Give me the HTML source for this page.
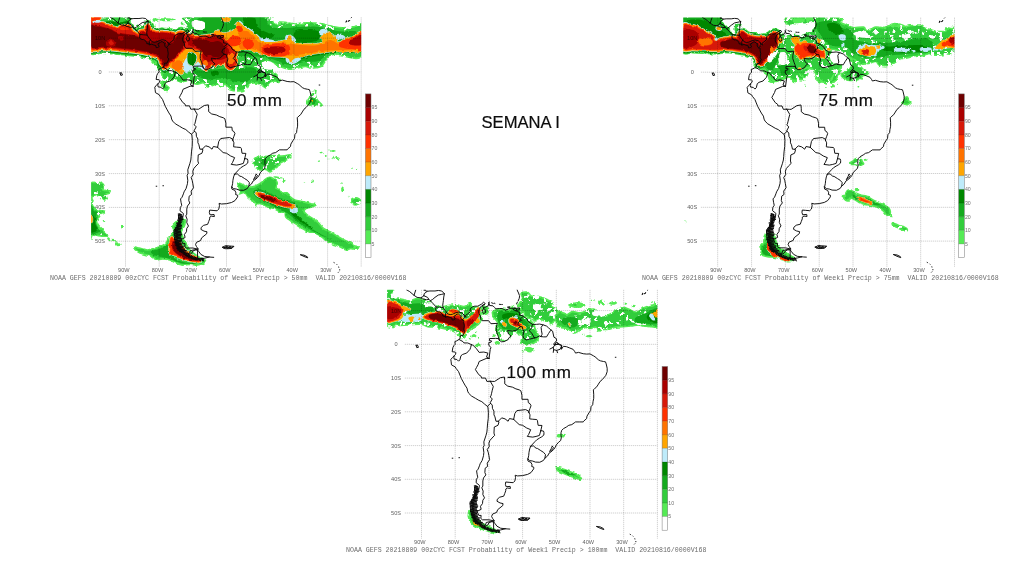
<!DOCTYPE html>
<html lang="pt"><head><meta charset="utf-8"><title>SEMANA I</title>
<style>
html,body{margin:0;padding:0;background:#fff;}
body{width:1024px;height:576px;overflow:hidden;position:relative;font-family:"Liberation Sans",sans-serif;}
svg{position:absolute;left:0;top:0;display:block;}
.c{fill:none;stroke:#0a0a0a;stroke-width:0.95;vector-effect:non-scaling-stroke;stroke-linejoin:round;stroke-linecap:round;}
.g{fill:none;stroke:rgba(0,0,0,0.3);stroke-width:0.6;stroke-dasharray:1.3 0.7;}
.ax{font-family:"Liberation Sans",sans-serif;font-size:5.6px;fill:rgba(0,0,0,0.66);text-anchor:middle;}
.cap{font-family:"Liberation Mono",monospace;font-size:6.4px;fill:#6c6c6c;}
.cb{font-family:"Liberation Sans",sans-serif;font-size:5.2px;fill:rgba(0,0,0,0.6);}
.t{font-family:"Liberation Sans",sans-serif;font-size:17px;fill:#0c0c0c;stroke:#0c0c0c;stroke-width:0.2;}
</style></head><body>
<svg width="1024" height="576" viewBox="0 0 1024 576">
<defs><filter id="b" x="-2%" y="-2%" width="104%" height="104%" color-interpolation-filters="sRGB"><feTurbulence type="fractalNoise" baseFrequency="0.22" numOctaves="2" seed="7" result="n"/><feDisplacementMap in="SourceGraphic" in2="n" scale="3.2" xChannelSelector="R" yChannelSelector="G" result="d"/><feGaussianBlur in="d" stdDeviation="0.4"/></filter>
<filter id="h" x="0" y="0" width="100%" height="100%" filterUnits="objectBoundingBox" color-interpolation-filters="sRGB"><feTurbulence type="fractalNoise" baseFrequency="0.23" numOctaves="2" seed="11" result="t"/><feColorMatrix in="t" type="matrix" values="0 0 0 0 0  0 0 0 0 0  0 0 0 0 0  0 0 0 -16 10.55" result="m"/><feComposite in="SourceGraphic" in2="m" operator="in"/></filter><path id="coast" class="c" d="M22.6,-8.7 L23.2,-8 L23.1,-8.6 L23.7,-9 L24.4,-9.6 L24.5,-10.6 L25.2,-11.1 L25.8,-11.3 L26.7,-11.3 L27.8,-11.9 L28.4,-12.45 L28.9,-12.1 L28.7,-11.8 L28.1,-11.6 L28.3,-10.9 L29,-11 L29.8,-11.4 L30,-12.2 L30.2,-11.5 L31.2,-11.4 L31.7,-10.9 L32,-10.5 L33.1,-10.6 L33.9,-10.6 L34.9,-10.1 L35.7,-10.4 L36.2,-10.65 L37.3,-10.7 L38.1,-10.7 L37.5,-10.5 L37.1,-10.4 L37.7,-10 L38.4,-9.8 L39.2,-9.3 L39.1,-8.6 L40,-8.5 L40.2,-8.3 L41.4,-7.4 L41.6,-6.8 L42.8,-6 L43,-5.9 L44.1,-5.9 L45,-6 L46,-5.8 L47.1,-5.4 L47.7,-4.9 L48.3,-4.3 L48.9,-3.9 L49.3,-2.1 L50,-1.7 L50.1,-1 L49.6,-0.6 L49.2,0 L49.7,0.2 L50.5,-0.2 L51.6,0.3 L51.5,1.5 L52.1,0.6 L53,0.7 L54,1.1 L55,1.5 L55.5,2.2 L55.7,2.6 L56.6,2.4 L58,2.8 L59,2.9 L60,2.85 L61,3.4 L61.5,3.7 L62.5,4.6 L63.1,4.9 L64,5.1 L64.6,5.2 L64.8,5.8 L65.1,7.1 L65.1,8.1 L64.7,9.2 L64.3,9.7 L63.6,10.5 L63,11 L62.5,11.8 L62,12.6 L61.5,13 L61,13.5 L61.1,14.8 L61.1,16 L60.9,17 L60.8,17.9 L60.3,18.5 L60.2,19.6 L59.7,20.3 L59.1,21.3 L59,22 L58.1,22.8 L58,23 L56.8,23 L55.7,23 L55.3,23.3 L54.6,23.8 L53.7,24 L53,24.5 L52.1,25 L51.6,25.5 L51.4,26.2 L51.4,27 L51.5,27.6 L51.3,28.5 L50.7,29 L50,29.8 L49.7,30.5 L49.2,31.2 L48.4,31.9 L47.9,32.2 L47.4,33.1 L46.6,33.75 L46.2,34.4 L45.1,34.95 L43.8,34.9 L43,34.6 L42.1,34.45 L41.6,34 L41.5,33.9 L41.6,34.6 L42.5,35 L42.8,35.7 L42.7,36.2 L43.3,36.4 L43.3,36.9 L42.5,38 L41.5,38.55 L40,38.9 L38.5,39 L37.8,38.8 L37.9,39.5 L37.7,40.5 L37.2,41 L36,40.9 L35,40.8 L34.9,41.5 L35.1,42.2 L36.3,42.1 L36.4,42.7 L35.5,42.6 L35,42.9 L35,43.4 L34.7,44.2 L34.4,45 L33.2,45.3 L32.5,45.9 L32.4,46.5 L33.3,47 L34.2,47.2 L34.1,47.8 L32.6,49 L32.3,49.8 L31.1,50.3 L30.8,51 L31.1,51.6 L31.6,52.3 L30.5,52.5 L29.2,52.8 L29,53.6 L28,53.6 L27,53 L26.5,52.5 L25.5,51.5 L24.7,50 L24.5,48.5 L24.4,46.7 L25.5,45.5 L26.2,44 L27,43 L27.2,41.8 L26.2,41 L26.3,40 L26.7,39.4 L26.5,38.5 L26.35,37.5 L26.8,37 L27.2,36 L27.4,35.4 L28,34.4 L28.4,33 L28.5,32 L28.3,30.5 L28.6,30 L28.5,28.9 L29.1,27.1 L29.4,26 L29.5,25 L29.6,23.6 L29.8,22 L29.85,20.2 L29.7,18.5 L28.7,17.7 L27.9,17 L27,16.6 L26,16 L24.8,15.3 L24,14.5 L23.7,13.9 L23.5,13 L22.9,12.1 L22.4,11.2 L21.8,10.1 L21.4,9.1 L21,8.1 L20.3,7.2 L20,6.7 L18.9,6.1 L18.8,5.2 L18.7,4.5 L19.2,3.9 L19.7,3.4 L20.1,3 L20.2,2.5 L20,2.3 L19.1,2.2 L19.3,1 L19.6,0.4 L20,0 L19.9,-0.8 L20.4,-1 L21.1,-1.4 L21.4,-1.8 L21.6,-2.6 L22.3,-2.6 L22.9,-3.9 L22.5,-4.2 L22.7,-5.5 L22.5,-6.6 L22.6,-7 L22.1,-7.2 L21.8,-7.5 L21.6,-8.1 L21.9,-8.4 L21.5,-8.5 L21,-8.95 L20.5,-8.95 L20.2,-8.6 L19.6,-8.3 L20,-7.5 L19.6,-7.25 L19.1,-7.2 L19,-7.8 L18.3,-8 L17.8,-8.2 L17.1,-8.05 L17,-8.3 L16.3,-8.4 L16.3,-8.7 L15.8,-9.4 L15.3,-9.6 L14.9,-9.6 L14.3,-9.9 L14.2,-10.4 L14.3,-11.1 L13.5,-12 L12.6,-12.9 L12.2,-13.3 L11.5,-13.2 L10.2,-13.5 L9.9,-13.75 L8.7,-13.9 L7.8,-14.5 L6.5,-15.6 L5.5,-16.2 M22.6,-8.7 L22,-9.3 L21,-9.55 L20.1,-9.3 L19.2,-8.9 L18.5,-8.8 L17.8,-9 L17.4,-9.55 L17,-10 L16.4,-10.9 L16.3,-11.6 L16.4,-12.3 L16.5,-13 L16.6,-14 L16.8,-15 L16,-15.8 L15,-15.95 L14,-15.8 L12.5,-15.8 L11.7,-15.7 L11.1,-15.9 L11.1,-16.3 M28.4,-10.6 L28,-9.8 L28.4,-9.1 L29,-9.4 L28.9,-10.3 L28.4,-10.6 M31.4,52.6 L31.8,53.1 L32.4,53.9 L33.5,54.5 L34.9,54.65 L33.5,55 L32,55.2 L30.5,55.3 L29,54.6 L28,54.2 L29,53.9 L29.7,53.5 L30,52.9 L30.7,52.6 L31.4,52.6 M38.8,51.8 L39.7,51.3 L40.8,51.4 L42.2,51.5 L41.6,52.1 L40.5,52.2 L39.5,52.2 L38.8,51.8 M39.8,51.6 L40.6,51.9 L41.2,51.6 M62,54 L63,54.1 L64,54.6 L64.1,54.9 L63,54.5 L62,54 M8.4,0.3 L8.8,0.2 L9.1,0.9 L8.6,1 L8.4,0.3 M38.1,-10.1 L39,-10.2 L39.1,-10.8 L38.3,-10.7 L38.1,-10.1 M25.9,41.9 L26.5,42 L26.4,43.4 L25.7,43.3 L25.9,41.9 M25.65,42 L26.75,42.22 L25.58,42.44 L26.97,42.66 L25.63,42.88 L27.03,43.1 L25.66,43.32 L27.2,43.54 L25.4,43.76 L26.91,43.98 L25.6,44.2 L26.68,44.42 L25.09,44.64 L26.52,44.86 L25.28,45.08 L26.76,45.3 L25.15,45.52 L26.67,45.74 L24.83,45.96 L26.63,46.18 L24.7,46.4 L26.39,46.62 L24.54,46.84 L26.48,47.06 L24.31,47.28 L26.56,47.5 L24.53,47.72 L26.8,47.94 L24.38,48.16 L26.59,48.38 L24.79,48.6 L26.45,48.82 L24.44,49.04 L26.68,49.26 L24.4,49.48 L26.62,49.7 L24.79,49.92 L26.48,50.14 L24.63,50.36 L26.69,50.58 L24.81,50.8 L26.71,51.02 L24.86,51.24 L27.26,51.46 L25.15,51.68 L27.19,51.9 L25.18,52.12 L27.65,52.34 L25.35,52.56 L28.14,52.78 L25.97,53 L28.39,53.22 M25.86,52.09 L26.05,53.21 L26.41,52.34 L26.58,53.44 L26.78,52.72 L27.1,53.67 L27.24,52.98 L27.41,54.07 L27.66,53.28 L27.85,54.33 L28.08,53.55 L28.28,54.59 L28.65,53.66 L28.72,54.82 L28.96,54.01 L29.18,55.02 L29.51,54.11 L29.66,55.17 L29.91,54.33 L30.13,55.32 L30.36,54.49 L30.61,55.43 L30.77,54.66 L30.96,55.65 L31.22,54.77 L31.53,55.64 L31.66,54.88 L31.99,55.71 L32.12,54.94 L32.31,55.89 L32.67,54.88 L32.84,55.85 L32.99,55.03 L33.26,55.89 M25.77,43.5 L26.47,43.8 L25.6,44.1 L26.37,44.4 L25.54,44.7 L26.29,45 L25.16,45.3 L26.12,45.6 L25.12,45.9 L25.73,46.2 L24.66,46.5 L25.47,46.8 L24.78,47.1 L25.69,47.4 L24.75,47.7 L25.57,48 L24.9,48.3 L25.53,48.6 L24.86,48.9 L25.61,49.2 L24.79,49.5 L25.65,49.8 L24.71,50.1 L25.83,50.4 L24.93,50.7 L25.92,51 L24.97,51.3 L26.1,51.6 L25.47,51.9 L26.4,52.2 L25.8,52.5 M34.9,54.65 L35.4,54.7 L36.2,54.75 M38.25,-12 L38.45,-12.5 M38.7,-12.9 L39,-13.6 L39.1,-14.2 M39.05,-14.5 L38.8,-15.2 L38.5,-15.8 L38.3,-16.4 M29.9,-12.4 L30.2,-12.5 M30.8,-12.3 L31.3,-12.1 M31.6,-12.2 L31.8,-12.1 M33.1,-11.85 L33.5,-11.8 M33.8,-11.8 L34,-11.8 M35.6,-11 L36.2,-11.1 L36.2,-10.9 L35.6,-11 M74.9,-16.9 L75,-17.1 M75.5,-14.8 L75.8,-15 L75.6,-15.15 L75.5,-14.8 M76.2,-15 L76.6,-15.2 L76.5,-15.35 L76.2,-15 M77,-16 L77.2,-16.2 M71.9,56.3 L72,56.35 M72.7,56.8 L72.75,56.85 M73.3,57.6 L73.32,57.7 M73.6,58.4 L73.6,58.5 M73.3,59.1 L73.2,59.2 M48.8,30.2 L49.2,30.6 L48.7,31.3 L48,31.8 L48.5,30.9 L48.8,30.2 M67.5,3.85 L67.7,3.85 M21.1,33.6 L21.3,33.6 M19.1,33.75 L19.3,33.75 M39,51.7 L39.6,51.9 L40.1,51.5 L40.5,51.8 L41,51.6 L41.4,51.9 L42,51.6 M39.2,52 L39.8,51.7 L40.3,52.1 L40.8,51.9 L41.3,52 M48.1,1.4 L49.1,0.9 L49.6,0.1 L50.6,0 L51.6,0.4 L51.1,1.5 L50.1,1.8 L49.2,1.6 L49.1,0.9 M49.2,1.6 L49.1,2.4 M50.1,1.8 L50.4,2.5 M49.6,0.1 L50,-0.6 L50.5,-0.4 L50.6,0 M28.7,-11.8 L27.5,-11.1 L27,-10 L27,-9.2 L27.5,-8.4 L27.6,-7.4 L28,-7 L29.9,-7 L30.6,-6.1 L32.5,-6.2 L32.2,-5 L32.2,-4 L32.6,-2.8 L32.8,-2.3 L33.1,-1.2 M33.1,-1.2 L32.9,-1.7 L32,-1.75 L30.2,-1.7 L30.15,-1.1 L30.8,-1 L30.6,-0.6 L30,-0.55 L29.95,0.2 L30.6,1 L30.4,1.5 L30.05,4.2 M30.05,4.2 L29.3,3.8 L29.7,2.6 L28.5,2.3 L27.1,2.4 L26.3,1.3 L25.2,0.2 L24.8,0.1 M24.8,0.1 L24.4,-0.1 L23.7,-0.4 L22.6,-0.4 L22.3,-0.8 L21.2,-1.4 M24.8,0.1 L24.6,0.9 L24.4,1.5 L23.4,2.6 L22.2,3 L21.7,3.4 L21.4,4.6 L21,5 L20.5,4.5 L19.7,4.4 L19.6,3.9 L19.7,3.4 M30.05,4.2 L29.2,4.2 L27.1,5.1 L26.8,6 L26.3,6.9 L26,7.5 L27,9 L27.7,9.5 L27.8,10 L29,10 L29.4,11 L30.4,10.95 M30.4,10.95 L31.3,12.5 L31,13.6 L30.8,14.5 L30.6,15.3 L30.4,15.6 L31,16.2 L30.4,17.3 L30.5,17.5 M30.5,17.5 L29.6,18.35 M30.5,17.5 L31,18 L31.05,19 L31.5,19.8 L31.5,20.9 L31.8,21.5 L32.1,22.8 L32.8,22.8 M32.8,22.8 L33,23 L32.7,24 L31.6,24.5 L31.5,26.3 L31.7,27 L30.9,27.8 L30.3,28.5 L30,29.3 L30.1,30.3 L29.5,31.2 L29.8,32 L30,33 L30.2,34.2 L29.5,35.2 L29.6,36.2 L28.9,36.7 L28.8,38 L29.1,38.7 L28.4,39.6 L28.2,40.5 L28.2,42 L27.9,42.5 L28.3,43.5 L28.2,44.5 L28.7,45.5 L28.2,46.2 L28.1,47.2 L27.5,48 L27.7,48.9 L26.5,49.5 L27,50.7 L27.7,50.7 L27.6,51.6 L28.1,52 L30,52 L31.6,52.35 M31.4,52.65 L31.4,54.9 M30.4,10.95 L31.2,11 L31.7,11 L33.4,9.9 L34.6,9.7 L34.7,10.8 L34.7,11.7 L35.6,12.4 L37,12.7 L38,13.2 L39,13.5 L39.5,13.8 L39.8,15.1 L39.8,16.3 L41.6,16.3 L41.7,17.3 L42.2,17.6 L42.5,18.2 L42.2,19 L41.9,19.8 L41.85,20.15 M41.85,20.15 L41.8,19.8 L40.9,19.35 L38.3,19.65 L37.7,20.5 L37.35,22.25 M37.35,22.25 L36.1,22 L35.7,22.8 L34.8,22.1 L33.8,21.8 L32.8,22.8 M37.35,22.25 L39,23.8 L40,24 L41.2,24.8 L42.4,25.3 L41.8,26.7 L41.4,27.3 L43,27.5 L44,27.3 L45,27 L45.4,25.6 M45.4,25.6 L45.75,24.05 L44.6,24 L44.4,22.6 L44.2,22.3 L43,22.2 L42.1,22.1 L42.2,20.9 L41.85,20.15 M45.4,25.6 L46.2,25.7 L46.35,26.2 L46.3,26.9 L45.7,27.4 L45,27.8 L44.2,28.3 L43.7,28.8 L42.4,30.2 M42.4,30.2 L42.1,31 L41.9,32 L41.8,33 L41.6,33.9 M42.4,30.2 L43.2,30.1 L44,30.8 L44.4,30.85 L45.4,31.5 L46.2,32 L46.8,32.7 L46.6,33.75 M33.1,-1.2 L33.7,-0.75 L34.5,-0.8 L35.7,-1.4 L36,-2 L36.6,-2.4 L35.8,-3.1 L35.5,-4.1 L37,-3.9 L37.2,-4 L38.1,-4.15 L39.3,-5.2 M39.3,-5.2 L38.6,-5.9 L38.9,-6.7 L39.7,-7.1 L39.3,-7.5 L40.2,-8.3 M39.3,-5.2 L39.9,-5.2 L40.05,-4.5 L40.4,-3.9 L40.1,-2.6 L40.3,-1.8 L41.1,-1.3 L42,-1.5 L43.5,-1.9 M43.5,-1.9 L42.7,-3.3 L42,-4 L42.7,-5 L42.9,-5.9 M43.5,-1.9 L44.1,-2 L45,-2.5 L45.4,-2.3 M45.4,-2.3 L45.8,-3 L45.6,-4 L45.5,-5 L46,-5.75 M45.4,-2.3 L46.2,-2.2 L47.1,-2.2 L47.7,-3.2 L48.3,-4.1 L48.4,-4.3 M22.6,-8.7 L22.8,-7.9 L22.1,-7.2 M17.1,-8.05 L17.1,-9 L17.4,-9.55 M14.3,-11.1 L15.3,-11 L16.4,-10.9 M12.6,-12.9 L13.3,-13.3 L14,-13.9 L15,-14.6 L16,-14.8 L16.8,-15 M12.2,-13.3 L11.8,-13.9 L10.7,-14.4 M9.9,-13.75 L10.7,-14.4 M10.7,-14.4 L10.8,-15 L11.7,-15.7 M7.8,-14.5 L8,-15.2 L8.3,-16.1 M10.8,-15.9 L10.8,-16.3"/>
</defs>
<rect width="1024" height="576" fill="#fff"/>
<g id="panel1">
<clipPath id="clip1"><rect x="91.1" y="17.3" width="270.1" height="256.8"/></clipPath>
<g clip-path="url(#clip1)" filter="url(#b)">
<defs><path id="s1_0" d="M216,17C225.7,9.3 260.3,16.6 270,17C279.7,17.4 269.3,18 270,19C270.7,20 272.4,21.8 273.8,22.8C275.2,23.8 276.4,24.7 277.5,24.6C278.6,24.5 278.2,22.4 280,22.1C281.8,21.8 284.8,22.5 287.5,22.8C290.2,23.1 291.7,24 295,24C298.3,24 301.7,22.9 306,22.8C310.3,22.7 314.5,22.8 318.8,23.4C323.1,24 325.7,25.1 330,25.9C334.3,26.7 338,27.7 342.5,27.8C347,27.9 351.5,27 355,26.5C358.5,26 360.7,19.9 362,25.2C363.3,30.5 365.5,50.4 362,55.9C358.5,61.4 347.4,56.3 342.5,56C337.6,55.7 337.7,53.7 335,54C332.3,54.3 330,55.5 327.5,57.8C325,60 324,64.7 321,66.5C318,68.3 313.9,67.8 311,67.8C308.1,67.8 308.3,66.3 305,66.5C301.7,66.7 295.6,68.5 292.5,69C289.4,69.5 289.8,69.5 287.5,69C285.2,68.5 282.2,67.4 280,66.5C277.8,65.6 277.2,64.9 275,64C272.8,63.1 269.8,61.5 267.5,61.5C265.2,61.5 264.2,64.3 262.5,64C260.8,63.7 262.1,60.7 258,60C253.9,59.3 247.6,60 240,60C232.4,60 220.3,67.7 216,60C211.7,52.3 206.3,24.7 216,17Z"/><path id="s1_1" d="M216,17C225.4,9.6 257.9,15.7 268,17C278.1,18.3 270.2,22.4 272,24C273.8,25.6 276.2,26 278,26C279.8,26 278.9,24.1 282,24C285.1,23.9 290.7,25.4 295,25.5C299.3,25.6 301.7,24.6 306,24.5C310.3,24.4 314.7,24.5 319,25C323.3,25.5 325.9,26.7 330,27.5C334.1,28.3 337.5,29.3 342,29.5C346.5,29.7 351.4,28.9 355,28.5C358.6,28.1 360.7,22.9 362,27.5C363.3,32.1 365.4,49.1 362,54C358.6,58.9 347.9,54.8 343,54.5C338.1,54.2 338.1,52.2 335,52.5C331.9,52.8 328.7,53.9 326,56C323.3,58.1 322.7,62.3 320,64C317.3,65.7 313.7,65.4 311,65.5C308.3,65.6 308.2,64.2 305,64.5C301.8,64.8 296.2,66.5 293,67C289.8,67.5 289.3,67.5 287,67C284.7,66.5 282.2,65.4 280,64.5C277.8,63.6 277.2,62.9 275,62C272.8,61.1 270.3,59.7 268,59.5C265.7,59.3 267,61.3 262,61C257,60.7 248.3,58.5 240,58C231.7,57.5 220.3,65.4 216,58C211.7,50.6 206.6,24.4 216,17Z"/><path id="s1_2" d="M216,17C224.3,10 252.6,15.7 262,17C271.4,18.3 265.5,22 268,24C270.5,26 271.1,27.4 276,28C280.9,28.6 289.6,27.8 295,27.5C300.4,27.2 301.7,26.6 306,26.5C310.3,26.4 314.7,26.5 319,27C323.3,27.5 325.9,28.7 330,29.5C334.1,30.3 338.4,31.2 342,31.5C345.6,31.8 347.5,30.7 350,31C352.5,31.3 357.8,30.1 356,33C354.2,35.9 346.5,43.9 340,47C333.5,50.1 322.5,48.7 320,50C317.5,51.3 326.4,52 326,54C325.6,56 321.8,59.6 318,61C314.2,62.4 309.5,61.4 305,62C300.5,62.6 296.2,64 293,64.5C289.8,65 289.3,65 287,64.5C284.7,64 282.7,63 280,62C277.3,61 275.2,59.9 272,59C268.8,58.1 267.8,57.5 262,57C256.2,56.5 248.3,56.2 240,56C231.7,55.8 220.3,63 216,56C211.7,49 207.7,24 216,17Z"/><path id="s1_3" d="M243,18C244.6,16.7 251.3,16.4 254,18C256.7,19.6 255.8,24.5 258,27C260.2,29.5 263.1,30.6 266,32C268.9,33.4 273.6,33.7 274,35C274.4,36.3 270.9,38.8 268,39C265.1,39.2 261.2,37.6 258,36C254.8,34.4 252.3,32 250,30C247.7,28 246.3,27.2 245,25C243.7,22.8 241.4,19.3 243,18Z"/><path id="s1_4" d="M296,31C298.2,29.6 302,30 306,30C310,30 315.3,29.9 318,31C320.7,32.1 321.4,34.2 321,36C320.6,37.8 319.4,39.9 316,41C312.6,42.1 306,42.5 302,42C298,41.5 295.1,40 294,38C292.9,36 293.8,32.4 296,31Z"/><path id="s1_5" d="M262,55C264.3,56.6 270.3,57.1 275,58C279.7,58.9 284.6,59.1 288,60C291.4,60.9 291.5,63.2 294,63C296.5,62.8 298.8,60.2 302,59C305.2,57.8 308,57.3 312,56.5C316,55.7 319.7,55.1 324,54.5C328.3,53.9 331.3,53.3 336,53C340.7,52.7 345.3,53.2 350,53C354.7,52.8 359.8,52.7 362,52C364.2,51.3 380,49.5 362,49C344,48.5 280,47.9 262,49C244,50.1 259.7,53.4 262,55Z"/><path id="s1_6" d="M184.2,17.5C189.9,16.8 210.3,14.1 216,17.5C221.7,20.9 218.8,33.1 216,36.5C213.2,39.9 205.5,36.7 200.5,36.5C195.5,36.3 190.9,36.4 188,35.2C185.1,34.1 184.5,31.6 184.2,30.2C184,28.9 186.6,29.3 186.8,27.8C186.9,26.2 185.3,23.3 184.9,21.5C184.4,19.7 178.6,18.2 184.2,17.5Z"/><path id="s1_7" d="M205.5,19C207.3,17.6 214.1,16.1 216,19C217.9,21.9 217.4,32.3 216,35.2C214.6,38.2 210.1,35.9 208,35.2C205.9,34.6 204.6,33.1 204.2,31.5C203.9,29.9 205.9,28.8 206.1,26.5C206.3,24.2 203.7,20.4 205.5,19Z"/><path id="s1_8" d="M200,17.5C207.2,14.3 232.8,14.7 240,17.5C247.2,20.3 247.2,29.9 240,33C232.8,36.1 207.2,37.8 200,35C192.8,32.2 192.8,20.6 200,17.5Z"/><path id="s1_9" d="M100.5,17.5C105.6,17 123.7,17.1 129.2,17.5C134.8,17.9 131.1,18.7 131.1,19.6C131.1,20.6 131.4,22.2 129.2,22.8C127.1,23.3 123.5,22.9 119.2,22.8C115,22.6 108.8,22.6 105.5,22.1C102.2,21.7 102,21.1 101.1,20.2C100.2,19.4 95.4,18 100.5,17.5Z"/><path id="s1_10" d="M105.5,22.1C106.6,21.5 110.5,21.4 113,21.5C115.5,21.6 117,22.8 119.2,22.8C121.5,22.8 123.9,21.7 125.5,21.5C127.1,21.3 126,19.1 128.2,21.5C130.5,23.9 136.6,32.4 138,34.6C139.4,36.9 137.2,34.7 136.1,34C135,33.3 132.9,32 131.8,30.9C130.6,29.7 131,28.4 129.9,27.5C128.8,26.6 127.1,26.1 125.5,25.9C123.9,25.7 122.1,26 120.8,26.5C119.4,27 119.4,28.6 118,28.8C116.6,28.9 115,28.2 113,27.5C111,26.8 108.1,26 106.8,25C105.4,24 104.4,22.8 105.5,22.1Z"/><path id="s1_11" d="M137.4,24.6C138.3,23.7 141.3,23.9 143,24C144.7,24.1 146.1,23.7 146.8,25.2C147.4,26.8 147.2,31.6 146.5,32.8C145.8,33.9 144.2,31.5 143,31.5C141.8,31.5 140.8,33.2 139.9,32.8C139,32.3 138.4,30.5 138,29C137.6,27.5 136.5,25.5 137.4,24.6Z"/><path id="s1_12" d="M153,18.4C153.8,17.9 157,18.2 158,18.8C159,19.3 159.4,20.8 158.6,21.2C157.8,21.7 154.6,22 153.6,21.5C152.6,21 152.2,18.9 153,18.4Z"/><path id="s1_13" d="M161.8,18.4C163.9,18 172,18.3 174.2,18.8C176.5,19.2 176.1,20.5 174,20.9C171.9,21.3 164.6,21.3 162.4,20.9C160.2,20.4 159.6,18.8 161.8,18.4Z"/><path id="s1_14" d="M181.1,22.1C181.5,21.7 182.9,21.7 183.2,22.1C183.6,22.6 183.6,24.2 183.2,24.6C182.9,25.1 181.5,25.1 181.1,24.6C180.7,24.2 180.7,22.6 181.1,22.1Z"/><path id="s1_15" d="M158.8,68.5C159,71.6 160.6,70.5 161.2,72.2C161.9,74 162.4,76.2 162.5,78.5C162.6,80.8 161.7,82.8 161.9,84.8C162.1,86.7 162.7,88.1 163.8,89.1C164.8,90.1 166.6,90.6 167.5,90.4C168.4,90.2 169.2,89 168.8,87.9C168.3,86.8 165.2,85.4 165,84.1C164.8,82.9 165.7,81.8 167.5,81C169.3,80.2 172.5,79.5 175,79.8C177.5,80 179.2,82 181.2,82.2C183.3,82.5 184.7,81.3 186.2,81C187.8,80.7 188.8,80 190,80.4C191.2,80.7 191.8,82.2 193.1,82.9C194.5,83.6 195.6,84.1 197.5,84.1C199.4,84.1 201.9,82.2 203.8,82.9C205.6,83.6 206.2,87.3 207.5,87.9C208.8,88.4 209.4,86.7 211.2,86C213.1,85.3 215.7,84 217.5,84.1C219.3,84.2 219.9,86.6 221.2,86.6C222.6,86.6 223.9,84.1 225,84.1C226.1,84.1 226.6,85.6 227.5,86.6C228.4,87.6 228.2,89 230,89.8C231.8,90.5 234.8,91 237.5,91C240.2,91 243,90.9 245,89.8C247,88.6 247.2,86 248.8,84.8C250.3,83.5 251.7,83 253.8,82.9C255.8,82.8 257.8,83.2 260,84.1C262.2,85 264.7,87.9 266.2,87.9C267.8,87.9 267.4,85.4 268.8,84.1C270.1,82.9 272.1,81.2 273.8,81C275.4,80.8 276.9,83.2 278,82.9C279.1,82.5 280.4,80.2 280,79C279.6,77.8 276.9,76.9 276,76C275.1,75.1 277,75.3 275,74C273,72.7 267.2,70.8 265,69C262.8,67.2 263,66.5 262.5,64C262,61.5 280.4,56.6 262,55C243.6,53.4 178.6,52.6 160,55C141.4,57.4 158.5,65.4 158.8,68.5Z"/><path id="s1_16" d="M160,63.5C142.9,64.8 163.9,68.5 165,71C166.1,73.5 164.4,76.1 166.2,77.2C168.1,78.4 172.1,76.8 175,77.2C177.9,77.7 179.6,79.5 182.5,79.8C185.4,80 189,78.3 191.2,78.5C193.5,78.7 192.8,80.7 195,81C197.2,81.3 201.1,79.8 203.8,80.4C206.4,80.9 207.5,83.9 210,84.1C212.5,84.3 214.8,82.1 217.5,81.6C220.2,81.2 222.8,80.6 225,81.6C227.2,82.6 227.8,86 230,87.2C232.2,88.5 235,88.8 237.5,88.8C240,88.8 241.9,88.3 243.8,87.2C245.6,86.2 245.7,84.1 247.5,82.9C249.3,81.6 251.5,80.6 253.8,80.4C256,80.2 257.8,80.7 260,81.6C262.2,82.5 264.4,85.6 266.2,85.4C268.1,85.2 271.1,84.3 270,80.4C268.9,76.4 279.8,66.5 260,63.5C240.2,60.5 177.1,62.1 160,63.5Z"/><path id="s1_17" d="M193.8,68.5C195.1,68 199.1,70.8 202.5,71C205.9,71.2 208.4,70.2 212.5,69.8C216.6,69.3 220.5,68.7 225,68.5C229.5,68.3 233,68.7 237.5,68.5C242,68.3 246.6,67 250,67.2C253.4,67.5 255.3,68.2 256.2,69.8C257.1,71.3 256.6,74 255,76C253.4,78 250.7,79.9 247.5,81C244.3,82.1 241.1,82.5 237.5,82.2C233.9,82 231.1,80.4 227.5,79.8C223.9,79.1 220.9,78.5 217.5,78.5C214.1,78.5 211.9,80 208.8,79.8C205.6,79.5 202.5,78.4 200,77.2C197.5,76.1 196.1,75.1 195,73.5C193.9,71.9 192.4,69 193.8,68.5Z"/><path id="s1_18" d="M211.2,71.6C212.2,70.7 216.2,70.4 217.5,71C218.8,71.6 219.4,73.8 218.5,74.8C217.6,75.7 213.8,76.6 212.5,76C211.2,75.4 210.3,72.5 211.2,71.6Z"/><path id="s1_19" d="M215,32.1C216.8,27.9 221.2,33.5 225,32.8C228.8,32.1 234.3,30.1 236.2,28.4C238.1,26.7 235.1,24.5 235.6,23.4C236.1,22.3 237.3,21.7 238.8,22.1C240.3,22.6 242,24.5 243.8,25.9C245.6,27.2 247,28.4 248.8,29.6C250.6,30.8 252.1,31.6 253.8,32.8C255.5,34 256.8,35 258.1,36.5C259.4,38 259.1,39.9 261.2,40.9C263.3,41.9 266.6,42.1 270,42.1C273.4,42.1 276.9,41.5 280,40.9C283.1,40.3 286,39.9 287.5,39C289,38.1 287.4,36.5 288.1,35.9C288.8,35.3 290.4,35 291.2,35.9C292,36.8 290.9,39.5 292.5,40.9C294.1,42.2 297.8,42.9 300,43.4C302.2,43.9 301.9,43.4 305,43.4C308.1,43.4 314.4,43.9 317.5,43.4C320.6,42.9 322.1,41.8 322.5,40.9C322.9,40 320,39.4 320,38.4C320,37.4 321.3,36.3 322.5,35.2C323.7,34.1 325.1,32.7 326.9,32.5C328.7,32.3 330.6,32.9 332.5,34C334.4,35.1 336.4,36.9 337.5,38.4C338.6,39.9 337.4,42.1 338.8,42.1C340.2,42.1 342.5,39.4 345,38.4C347.5,37.4 349.4,37.7 352.5,36.5C355.6,35.3 360.3,29 362,31.5C363.7,34 364.2,46.6 362,50.2C359.8,53.8 354,51.2 350,51.5C346,51.8 342.7,52.1 340,52.1C337.3,52.1 337.9,51.4 335,51.5C332.1,51.6 328.1,52.2 323.8,52.8C319.5,53.4 315.3,53.8 311.2,54.6C307.1,55.4 304.3,56.3 301.2,57.1C298.1,57.9 295.4,58.1 293.8,59C292.2,59.9 293.2,61.5 292.5,62.1C291.8,62.7 290.8,62.8 290,62.1C289.2,61.4 289.9,59.3 288.1,58.4C286.3,57.5 283.3,57.4 280,57.1C276.7,56.8 273.1,57.1 270,56.5C266.9,55.9 265.2,54.7 262.5,54C259.8,53.3 257.2,53.5 255,52.8C252.8,52.1 252.2,50.7 250,50.2C247.8,49.7 244.8,50 242.5,50.2C240.2,50.4 240.7,50.5 237.5,51.5C234.3,52.5 229.1,55.2 225,56C220.9,56.8 216.8,60.3 215,56C213.2,51.7 213.2,36.3 215,32.1Z"/><path id="s1_20" d="M238,33C239.1,29.9 243.1,30.5 246,31C248.9,31.5 251.7,34 254,36C256.3,38 256.1,40.6 259,42C261.9,43.4 265.3,43.9 270,44C274.7,44.1 279.6,42.3 285,42.5C290.4,42.7 294.1,44.5 300,45C305.9,45.5 312.6,45.9 318,45C323.4,44.1 326,40.2 330,40C334,39.8 336.4,44 340,44C343.6,44 346,41.6 350,40C354,38.4 359.8,33.5 362,35C364.2,36.5 366,45.8 362,48.5C358,51.2 347.2,49.5 340,50C332.8,50.5 328.3,50.3 322,51C315.7,51.7 310.8,53.2 305,54C299.2,54.8 295.4,55.3 290,55.5C284.6,55.7 280,55.6 275,55C270,54.4 266.5,53.2 262,52C257.5,50.8 254,49.1 250,48.5C246,47.9 242.2,51.3 240,48.5C237.8,45.7 236.9,36.1 238,33Z"/><path id="s1_21" d="M227,40C227.7,38.4 230.8,36.5 233,36C235.2,35.5 237.6,35.9 239,37C240.4,38.1 241.5,40.4 241,42C240.5,43.6 238.2,45.5 236,46C233.8,46.5 230.6,46.1 229,45C227.4,43.9 226.3,41.6 227,40Z"/><path id="s1_22" d="M243,41C243.9,39.6 247,38.5 249,39C251,39.5 253.8,42.2 254,44C254.2,45.8 251.8,48.5 250,49C248.2,49.5 245.3,48.4 244,47C242.7,45.6 242.1,42.4 243,41Z"/><path id="s1_23" d="M236,27C236.2,25.9 238.7,25.5 240,26C241.3,26.5 243.2,28.9 243,30C242.8,31.1 240.3,32.5 239,32C237.7,31.5 235.8,28.1 236,27Z"/><path id="s1_24" d="M243.8,25.2C244.5,25.1 245.7,26 247.5,27.1C249.3,28.2 251.5,29.7 253.8,31.5C256,33.3 258.4,35.4 260,37.1C261.6,38.8 262.7,40.2 262.5,40.9C262.3,41.6 260.3,41.9 258.8,40.9C257.2,39.9 255.7,37 253.8,35.2C251.8,33.5 250,32.2 248.1,30.9C246.2,29.5 243.9,28.8 243.1,27.8C242.3,26.7 243,25.4 243.8,25.2Z"/><path id="s1_25" d="M260,37.8C261.6,37.4 267.3,39.1 270,39.6C272.7,40.2 275,40.3 275,40.9C275,41.5 272.5,42.8 270,43C267.5,43.2 263.1,42.7 261.2,41.8C259.4,40.8 258.4,38.1 260,37.8Z"/><path id="s1_26" d="M286.2,57.8C287.6,56.7 292.5,56.9 295,57.1C297.5,57.3 300,57.9 300,59C300,60.1 297.2,62.7 295,63.4C292.8,64.1 289.1,64 287.5,63C285.9,62 284.9,58.8 286.2,57.8Z"/><path id="s1_27" d="M285.6,35.9C286.5,34.6 289.4,34.7 291.2,35.2C293.1,35.8 294.9,37.6 295.6,39C296.3,40.4 296.7,42.4 295,43C293.3,43.6 287.9,43.4 286.2,42.1C284.6,40.8 284.7,37.1 285.6,35.9Z"/><path id="s1_28" d="M320.6,29.6C321.8,28.7 325.3,28.4 326.5,29C327.7,29.6 328.2,31.6 327.5,32.8C326.8,33.9 323.9,35.3 322.5,35.5C321.1,35.7 320.1,35.1 319.8,34C319.4,32.9 319.4,30.5 320.6,29.6Z"/><path id="s1_29" d="M335,35.5C336.2,34.9 340.7,34.6 342.5,35C344.3,35.4 345.7,36.9 345,37.8C344.3,38.6 340.4,39.5 338.8,39.6C337.1,39.7 336.3,39.1 335.6,38.4C334.9,37.6 333.8,36.1 335,35.5Z"/><path id="s1_30" d="M287.5,57.8C288.9,56.7 293.8,57.3 296.2,57.5C298.7,57.7 301.5,58 301.2,59C301,60 297.2,62.2 295,63C292.8,63.8 290.1,64.3 288.8,63.4C287.4,62.4 286.1,58.8 287.5,57.8Z"/><path id="s1_31" d="M237.5,21.5C237.4,20.7 239.5,20.6 240.6,21.2C241.7,21.9 243.6,24.2 243.8,25C243.9,25.8 242.4,26.1 241.2,25.5C240.1,24.9 237.6,22.3 237.5,21.5Z"/><path id="s1_32" d="M261.2,47.8C262,46.6 263,45.4 265,44.6C267,43.8 269.6,43.6 272.5,43.4C275.4,43.2 278.6,43.2 281.2,43.4C283.9,43.6 285.9,43.8 287.5,44.6C289.1,45.4 289.7,46.3 290,47.8C290.3,49.2 290.3,51.3 289.4,52.8C288.5,54.2 287.1,55.2 285,55.9C282.9,56.6 280.2,56.5 277.5,56.5C274.8,56.5 272.5,56.3 270,55.9C267.5,55.4 265.4,54.9 263.8,54C262.1,53.1 261.4,52 261,50.9C260.6,49.8 260.5,48.9 261.2,47.8Z"/><path id="s1_33" d="M263.8,49.6C264.4,48.6 267.5,47.7 270,47.1C272.5,46.6 275,46.4 277.5,46.5C280,46.6 282.4,47 283.8,47.8C285.1,48.5 285.7,49.9 285,50.9C284.3,51.9 282.2,52.8 280,53.4C277.8,53.9 275,54.1 272.5,54C270,53.9 267.8,53.5 266.2,52.8C264.7,52 263.1,50.6 263.8,49.6Z"/><path id="s1_34" d="M339.4,43.4C340.3,42 342.6,40.6 345,39.6C347.4,38.6 349.5,39 352.5,37.8C355.5,36.5 360.2,30.7 361.9,32.8C363.6,34.8 363.6,46.1 361.9,49C360.2,51.9 355.5,49.1 352.5,49C349.5,48.9 347.2,48.7 345,48.4C342.8,48 341,48 340,47.1C339,46.2 338.5,44.7 339.4,43.4Z"/><path id="s1_35" d="M350,40.9C350.8,39.9 352.9,39.5 355,38.4C357.1,37.3 360.6,33.6 361.9,34.6C363.1,35.6 363.1,42.1 361.9,44C360.6,45.9 357,45.2 355,45.2C353,45.2 351.5,44.8 350.6,44C349.7,43.2 349.2,41.9 350,40.9Z"/><path id="s1_36" d="M221.9,17.5C223.3,17 228.6,16.9 230,17.5C231.4,18.1 230.7,20.1 229.8,20.9C228.8,21.6 226.3,21.9 225,21.8C223.7,21.6 222.8,21 222.2,20.2C221.7,19.5 220.5,18 221.9,17.5Z"/><path id="s1_37" d="M90.5,26.8C91.4,23.2 93.2,26.3 95.5,26.4C97.8,26.5 100.3,26.8 103,27.4C105.7,28 108,28.7 110.5,29.6C113,30.6 114,31.9 116.8,32.8C119.5,33.6 122.8,34.2 125.5,34.6C128.2,35.1 129.5,34.8 131.8,35.2C134,35.7 136.4,36.4 138,37.1C139.6,37.8 138.9,38.3 140.5,39C142.1,39.7 144.5,40.3 146.8,40.9C149,41.4 151,42.1 153,42.1C155,42.1 156.2,41.1 158,40.9C159.8,40.7 161.2,40.2 163,40.9C164.8,41.6 166.4,44.3 168,44.6C169.6,45 170.4,43.8 171.8,42.8C173.1,41.7 174.4,40.4 175.5,39C176.6,37.6 177,36.1 178,35.2C179,34.4 180.2,33.9 181.1,34C182.1,34.1 182.7,34.6 183.2,35.9C183.8,37.1 183.8,39.2 184,40.9C184.2,42.6 184.5,43.9 184.2,45.2C184,46.6 183.5,47.5 182.8,48.4C182,49.3 180.8,49.2 179.9,50.2C178.9,51.3 178.4,52.8 177.4,54C176.4,55.2 175.7,55.7 174.2,57.1C172.8,58.6 170.7,60.7 169.2,62.1C167.8,63.6 167,64.5 166.1,65.2C165.2,66 164.8,66.7 164.2,66.2C163.7,65.8 163.6,64.3 163,62.8C162.4,61.2 162.5,59.3 161.1,57.8C159.8,56.2 157.9,55.3 155.5,54.2C153.1,53.2 151.2,52.5 148,51.8C144.8,51 142.1,50.5 138,49.9C133.9,49.3 130,49 125.5,48.5C121,48 117.5,47.6 113,47.2C108.5,46.9 104.5,46.9 100.5,46.8C96.5,46.6 92.3,49.9 90.5,46.2C88.7,42.6 89.6,30.3 90.5,26.8Z"/><path id="s1_38" d="M90.5,21.8C92.3,21 97.6,22.2 100.5,22.8C103.4,23.3 104.5,24.1 106.8,25C109,25.9 111,26.8 113,27.5C115,28.2 116.6,28.9 118,28.8C119.4,28.6 119.4,27 120.8,26.5C122.1,26 123.9,25.7 125.5,25.9C127.1,26.1 128.8,26.6 129.9,27.5C131,28.4 130.6,29.7 131.8,30.9C132.9,32 134.7,32.9 136.1,34C137.6,35.1 139.1,35.9 139.9,36.8C140.7,37.6 143.1,39.4 140.5,39C137.9,38.6 130.9,36.3 125.5,34.6C120.1,32.9 115.9,31.1 110.5,29.6C105.1,28.1 99.1,26.9 95.5,26.4C91.9,25.9 91.4,27.6 90.5,26.8C89.6,25.9 88.7,22.5 90.5,21.8Z"/><path id="s1_39" d="M90.5,17.2C92.4,16.8 99.4,16.9 101.1,17.2C102.8,17.6 100.9,18.8 99.9,19.2C98.9,19.7 97.2,19.6 95.5,19.8C93.8,19.9 91.4,20.4 90.5,20C89.6,19.6 88.6,17.7 90.5,17.2Z"/><path id="s1_40" d="M139.9,32.8C140.3,31.4 141.8,31.5 143,31.5C144.2,31.5 145.8,33.6 146.5,32.8C147.2,31.9 146.4,27.7 146.8,26.5C147.1,25.3 147.9,25.2 148.6,25.9C149.3,26.6 149.3,29 150.5,30.2C151.7,31.5 153.2,32.3 155.5,32.8C157.8,33.2 160.5,32.6 163,32.8C165.5,32.9 167.2,33 169.2,33.4C171.3,33.7 173.1,33.6 174.2,34.6C175.4,35.6 175.9,37.5 175.5,39C175.1,40.5 173.1,41.7 171.8,42.8C170.4,43.8 169.6,45 168,44.6C166.4,44.3 164.8,41.6 163,40.9C161.2,40.2 159.8,40.7 158,40.9C156.2,41.1 155,42.1 153,42.1C151,42.1 149,41.4 146.8,40.9C144.5,40.3 141.7,40.5 140.5,39C139.3,37.5 139.4,34.1 139.9,32.8Z"/><path id="s1_41" d="M106.8,40.9C107.8,40.1 110.1,39.4 111.8,39.6C113.4,39.8 115.6,41 116.1,42.1C116.7,43.2 116.1,45 114.9,45.9C113.6,46.7 110.8,47.1 109.2,46.8C107.7,46.4 106.6,45.1 106.1,44C105.7,42.9 105.7,41.7 106.8,40.9Z"/><path id="s1_42" d="M108.6,42.1C109,41.4 111.5,41.2 112.4,41.5C113.3,41.8 114,43.3 113.6,44C113.3,44.7 111.4,45.6 110.5,45.2C109.6,44.9 108.3,42.8 108.6,42.1Z"/><path id="s1_43" d="M118,36.8C118.5,35.9 121.4,35.7 122.4,36.2C123.4,36.8 124.1,38.8 123.6,39.6C123.2,40.5 120.9,41.4 119.9,40.9C118.9,40.4 117.5,37.6 118,36.8Z"/><path id="s1_44" d="M120.2,27.5C121.4,27 126.3,26.6 127.8,27C129.2,27.4 129.4,29 128.2,29.5C127.1,30 122.6,30.4 121.1,30C119.7,29.6 119.1,28 120.2,27.5Z"/><path id="s1_45" d="M184.9,36.5C185.5,34.4 186.1,34.5 188,34.6C189.9,34.7 192.1,36.9 195.5,37.1C198.9,37.3 203.3,36.4 206.8,35.9C210.3,35.4 212.2,34.6 215,34.6C217.8,34.6 220.9,35.1 222.5,35.9C224.1,36.7 222.7,37.5 223.8,39C224.9,40.5 227,42 228.8,44C230.6,46 232.5,48 233.8,50.2C235.1,52.5 235.9,54 236.2,56.5C236.5,59 236.5,61.8 235.6,64C234.7,66.2 232.8,68.4 231.2,69C229.6,69.6 228,68.1 226.9,67.1C225.8,66.1 226.2,64.1 225,63.4C223.8,62.7 221.6,63.1 220,63.4C218.4,63.7 217.5,65.1 216.2,65.2C214.8,65.3 213.6,63.8 212.5,64C211.4,64.2 211.1,65.6 210,66.5C208.9,67.4 207.5,68.8 206.2,69C204.8,69.2 203.2,68.7 202.5,67.8C201.8,66.9 202.5,66 202.4,64C202.3,62 202.1,59 201.8,56.5C201.5,54 201.9,51.6 200.5,50.2C199.1,48.9 196.4,49.4 194.2,49C191.9,48.6 189.7,48.2 188,47.8C186.3,47.3 185.5,48.5 184.9,46.5C184.3,44.5 184.3,38.6 184.9,36.5Z"/><path id="s1_46" d="M188,38C189.3,36.8 192.8,38.5 196,38.5C199.2,38.5 202.6,38.3 206,38C209.4,37.7 212.1,36.8 215,37C217.9,37.2 219.8,37.6 222,39C224.2,40.4 225.7,42.7 227,45C228.3,47.3 229.2,49.7 229,52C228.8,54.3 227.6,56.6 226,58C224.4,59.4 222.3,59.6 220,60C217.7,60.4 215.2,59.6 213,60C210.8,60.4 209.8,62.4 208,62C206.2,61.6 204.1,59.8 203,58C201.9,56.2 203.3,53.8 202,52C200.7,50.2 198.3,49.3 196,48C193.7,46.7 190.4,46.8 189,45C187.6,43.2 186.7,39.2 188,38Z"/><path id="s1_47" d="M193,40.5C193.7,39.1 197.7,39.6 200,39.5C202.3,39.4 203.8,39.5 206,40C208.2,40.5 209.8,41.8 212,42C214.2,42.2 215.8,40.5 218,41C220.2,41.5 222.7,43.2 224,45C225.3,46.8 225.4,49 225,51C224.6,53 223.8,54.9 222,56C220.2,57.1 217.2,57.2 215,57C212.8,56.8 211.6,55 210,55C208.4,55 207.3,57.4 206,57C204.7,56.6 203.9,54.4 203,53C202.1,51.6 202.3,50.1 201,49C199.7,47.9 197.4,48.5 196,47C194.6,45.5 192.3,41.9 193,40.5Z"/><path id="s1_48" d="M203,62C203.2,60.7 205.1,59.6 206,60C206.9,60.4 208.2,62.7 208,64C207.8,65.3 205.9,67.4 205,67C204.1,66.6 202.8,63.3 203,62Z"/><path id="s1_49" d="M228,56C228.9,54.4 231.8,52.3 233,53C234.2,53.7 234.9,57.8 234.5,60C234.1,62.2 232.2,64.6 231,65C229.8,65.4 228.5,63.6 228,62C227.5,60.4 227.1,57.6 228,56Z"/><path id="s1_50" d="M174.2,57.8C176.1,56.1 177.2,54.2 179.2,52.8C181.3,51.3 183.2,50.3 185.5,49.6C187.8,48.9 189.5,48.7 191.8,49C194,49.3 196.3,50.1 198,51.5C199.7,52.9 200.7,54.2 201.1,56.5C201.6,58.8 201.7,62.4 200.5,64C199.3,65.6 196.5,64.3 194.2,65.2C192,66.2 189.8,67.7 188,69C186.2,70.3 185.6,71.7 184.2,72.8C182.9,73.8 182.1,75.1 180.5,74.6C178.9,74.2 177.3,71.5 175.5,70.2C173.7,69 171.8,68.4 170.5,67.8C169.2,67.1 168.2,67.5 168,66.5C167.8,65.5 168.1,63.7 169.2,62.1C170.4,60.5 172.4,59.4 174.2,57.8Z"/><path id="s1_51" d="M173,62.1C174.1,60.9 176.2,60.1 178,60.2C179.8,60.4 182.3,61.2 183,62.8C183.7,64.3 182.9,67.7 181.8,69C180.6,70.3 178.6,70.6 176.8,70.2C174.9,69.9 172.4,68.6 171.8,67.1C171.1,65.7 171.9,63.4 173,62.1Z"/><path id="s1_52" d="M184.2,61.5C185,59.9 186.1,57.3 186.8,57.8C187.4,58.2 187,62.5 188,64C189,65.5 190.9,66 192.4,65.9C193.8,65.8 195.1,64.2 196.1,63.4C197.1,62.6 197.2,61.4 198,61.5C198.8,61.6 199.3,63.3 200.5,64C201.7,64.7 204.1,64.3 204.9,65.2C205.7,66.2 205.8,68.5 204.9,69C204,69.5 201.8,68.3 199.9,68C198,67.7 195.9,67.1 194.2,67.5C192.6,67.9 191.7,69.2 190.5,70.2C189.3,71.3 188.6,73.3 187.4,73.4C186.1,73.5 184.5,72.1 183.6,70.9C182.7,69.6 182.3,68.2 182.4,66.5C182.5,64.8 183.5,63.1 184.2,61.5Z"/><path id="s1_53" d="M188,55.2C188.7,54 190,53.1 191.1,52.8C192.2,52.4 193.3,52.6 194.2,53.4C195.2,54.2 196.3,55.5 196.5,57.1C196.7,58.7 196.2,60.7 195.5,62.1C194.8,63.5 193.6,64.7 192.4,65C191.1,65.3 189.5,64.7 188.6,63.8C187.7,62.8 187.5,61.1 187.4,59.6C187.3,58.1 187.3,56.5 188,55.2Z"/><path id="s1_54" d="M93,20.2C93.7,19.9 95.3,19.8 96.8,19.9C98.2,19.9 100.4,20.1 101.1,20.5C101.8,20.9 101.4,21.8 100.5,22.2C99.6,22.7 97.5,22.8 96.1,22.8C94.8,22.7 93.6,22.2 93,21.8C92.4,21.3 92.3,20.6 93,20.2Z"/><path id="s1_55" d="M192,21.5C192.9,20.1 195.7,20 198,20.2C200.3,20.5 203.9,21.2 205,22.8C206.1,24.3 205.5,27.7 204.2,29C203,30.3 200,30.2 198,30C196,29.8 194.1,29.3 193,27.8C191.9,26.2 191.1,22.9 192,21.5Z"/><path id="s1_56" d="M261.9,62.2C262.6,61 265.4,60.8 267.5,61C269.6,61.2 272.4,62.3 273.8,63.5C275.1,64.7 275.7,66.8 275,67.9C274.3,69 272,69.8 270,69.8C268,69.8 265.2,69.2 263.8,67.9C262.3,66.5 261.2,63.5 261.9,62.2Z"/><path id="s1_57" d="M131.8,19.2C133.6,18.6 140.9,18.3 143,19C145.1,19.7 144.5,22.4 143.6,23.4C142.7,24.4 139.9,24.7 138,24.6C136.1,24.5 134.1,23.7 133,22.8C131.9,21.8 129.9,19.9 131.8,19.2Z"/><path id="s1_58" d="M252.9,160.6C253.4,159.6 254.1,158.2 256,157.5C257.9,156.8 260.6,157.2 263.5,156.9C266.4,156.5 269.3,155.7 272.2,155.6C275.2,155.5 277.3,156.2 279.8,156.2C282.2,156.2 284.1,155.8 286,155.6C287.9,155.4 289.7,154.6 290.4,155C291.1,155.4 290.8,157.1 289.8,158.1C288.7,159.1 286.6,159.7 284.8,160.6C282.9,161.5 281.1,162 279.8,163.1C278.4,164.2 278.4,165.8 277.2,166.9C276.1,168 274.9,168.5 273.5,169.4C272.1,170.3 271.1,171.9 269.8,171.9C268.4,171.9 267.6,169.7 266,169.4C264.4,169 262.6,170 261,170C259.4,170 258.4,170.2 257.2,169.4C256.1,168.6 255.5,166.7 254.8,165.6C254,164.5 253.2,164 252.9,163.1C252.5,162.2 252.3,161.6 252.9,160.6Z"/><path id="s1_59" d="M258.5,160C259.5,159 262.1,158.3 264.8,158.1C267.4,157.9 271.5,158.2 273.5,158.8C275.5,159.3 276,160 276,161.2C276,162.5 274.9,164.4 273.5,165.6C272.1,166.9 270.5,167.9 268.5,168.1C266.5,168.3 263.9,167.7 262.2,166.9C260.6,166.1 259.8,165 259.1,163.8C258.4,162.5 257.5,161 258.5,160Z"/><path id="s1_60" d="M261,160.6C261.6,159.6 264.9,158.8 266,159.4C267.1,159.9 267.8,162.7 267.2,163.8C266.7,164.8 264,165.6 262.9,165C261.8,164.4 260.4,161.6 261,160.6Z"/><path id="s1_61" d="M274.1,176.2C275.1,176.1 277.7,176.2 279.8,176.9C281.8,177.6 284.7,179.1 285.4,180C286.1,180.9 284.7,182.1 283.5,181.9C282.3,181.7 280.2,179.5 278.5,178.8C276.8,178 274.9,177.9 274.1,177.5C273.3,177.1 273.1,176.4 274.1,176.2Z"/><path id="s1_62" d="M237.9,183.1C238.6,182.2 241.6,184.2 243.5,185C245.4,185.8 246.5,187.3 248.5,187.5C250.5,187.7 252.7,186.9 254.8,186.2C256.8,185.6 257.9,184.9 259.8,183.8C261.6,182.6 263.2,181.1 264.8,180C266.3,178.9 266.9,177.7 268.5,177.5C270.1,177.3 271.9,177.8 273.5,178.8C275.1,179.7 276.8,180.9 277.2,182.5C277.7,184.1 275.7,186.2 276,187.5C276.3,188.8 278,188.9 279.1,190C280.2,191.1 281,193.2 282.2,193.8C283.5,194.3 284.4,192.4 286,193.1C287.6,193.8 289.4,196.3 291,197.5C292.6,198.7 292.5,199.2 294.8,200C297,200.8 300.6,201.2 303.5,201.9C306.4,202.6 308.8,203.2 311,203.8C313.2,204.3 316,204.4 316,205C316,205.6 312.8,206.6 311,207.2C309.2,207.9 307.2,207.7 306,208.5C304.8,209.3 303.7,210.3 304.1,211.6C304.6,213 306.8,214.7 308.5,216C310.2,217.3 311.7,217.9 313.5,219.1C315.3,220.4 316.7,221.2 318.5,222.9C320.3,224.6 321.2,226.8 323.5,228.5C325.8,230.2 328.8,231 331,232.2C333.2,233.5 334,234.1 336,235.4C338,236.6 340,237.9 342.2,239.1C344.5,240.4 346.5,241.1 348.5,242.2C350.5,243.4 351.7,244.5 353.5,245.4C355.3,246.3 358.1,246.6 358.5,247.2C358.9,247.9 357.4,248.9 356,249.1C354.6,249.3 352.8,248.4 351,248.5C349.2,248.6 347.8,250 346,249.8C344.2,249.5 343.2,248.3 341,247.2C338.8,246.2 336,245.1 333.5,244.1C331,243.1 329.3,242.9 327.2,241.6C325.2,240.4 324.3,238.7 322.2,237.2C320.2,235.8 318.2,234.4 316,233.5C313.8,232.6 312,233 309.8,232.2C307.5,231.5 305.8,230.4 303.5,229.1C301.2,227.9 299.5,226.8 297.2,225.4C295,223.9 293,222.5 291,221C289,219.5 287.1,218.7 286,217.2C284.9,215.8 285.9,213.9 284.8,212.9C283.6,211.9 281.8,212.4 279.8,211.6C277.7,210.8 275.8,209.4 273.5,208.5C271.2,207.6 269.7,207.5 267.2,206.6C264.8,205.7 261.8,203.7 259.8,203.5C257.7,203.3 256.6,205.1 256,205.4C255.4,205.7 257.1,205.7 256.6,205C256.2,204.3 255,202.6 253.5,201.2C252,199.9 250.1,199.1 248.5,197.5C246.9,195.9 246.4,193.2 244.8,192.5C243.1,191.8 240,194.2 239.1,193.8C238.2,193.3 240,191.9 239.8,190C239.5,188.1 237.2,184 237.9,183.1Z"/><path id="s1_63" d="M248.5,190C249.6,189 253.3,189.2 256,188.1C258.7,187 261,184.8 263.5,183.8C266,182.7 267.9,181.8 269.8,182.5C271.6,183.2 271.9,185.7 273.5,187.5C275.1,189.3 276.2,190.9 278.5,192.5C280.8,194.1 283.3,194.7 286,196.2C288.7,197.8 290.8,200 293.5,201.2C296.2,202.5 299.6,199.8 301,203.1C302.4,206.5 299.2,215.4 301,219.8C302.8,224.1 306.9,224.6 311,227.2C315.1,229.9 319,232.5 323.5,234.8C328,237 332.4,238.3 336,239.8C339.6,241.2 343.5,242.5 343.5,242.9C343.5,243.2 339.6,242.6 336,241.6C332.4,240.6 328,239.2 323.5,237.2C319,235.3 315.1,233.2 311,231C306.9,228.8 304.1,227 301,224.8C297.9,222.5 296.2,220.5 293.5,218.5C290.8,216.5 289.6,215.5 286,213.5C282.4,211.5 278,209.3 273.5,207.2C269,205.2 264.4,203.8 261,202.2C257.6,200.7 256.8,200.3 254.8,198.8C252.7,197.2 250.9,195.3 249.8,193.8C248.6,192.2 247.4,191 248.5,190Z"/><path id="s1_64" d="M253.5,191.2C254.4,190 257.4,188.7 261,189.4C264.6,190.1 269,193.1 273.5,195C278,196.9 282.2,198.7 286,200C289.8,201.3 292.5,199.2 294.8,202.5C297,205.8 295.6,213.9 298.5,218.5C301.4,223.1 306.5,224.8 311,227.9C315.5,230.9 319.4,233.4 323.5,235.4C327.6,237.4 333.5,239 333.5,239.1C333.5,239.3 327.6,237.9 323.5,236.2C319.4,234.6 315.5,232.4 311,230C306.5,227.6 302.1,225.4 298.5,222.9C294.9,220.4 293.7,218.1 291,216C288.3,213.9 286.6,212.7 283.5,211C280.4,209.3 277.1,208.6 273.5,206.6C269.9,204.6 266.6,201.9 263.5,200C260.4,198.1 257.8,197.8 256,196.2C254.2,194.7 252.6,192.5 253.5,191.2Z"/><path id="s1_65" d="M291,209.8C291.9,209.8 293.8,211.5 296,213.5C298.2,215.5 300.4,218.3 303.5,221C306.6,223.7 313.1,227.7 313.5,228.5C313.9,229.3 308.9,227.1 306,225.4C303.1,223.7 299.9,221.3 297.2,219.1C294.6,217 292.1,215.2 291,213.5C289.9,211.8 290.1,209.8 291,209.8Z"/><path id="s1_66" d="M254.8,192.2C255,191.6 256.1,191.6 257.9,191.9C259.7,192.2 261.9,192.7 264.8,193.8C267.6,194.8 270.1,196.2 273.5,197.5C276.9,198.8 280.4,200.1 283.5,201.2C286.6,202.4 288.9,203.1 291,203.8C293.1,204.4 294.5,204.3 295.4,205C296.3,205.7 296.8,206.9 296,207.5C295.2,208.1 293.2,208.2 291,208.1C288.8,208 286.2,207.6 283.5,206.9C280.8,206.2 278.9,205.4 276,204.4C273.1,203.4 269.9,202.4 267.2,201.2C264.6,200.1 262.9,199.1 261,198.1C259.1,197.1 257.7,196.7 256.6,195.6C255.5,194.6 254.5,192.9 254.8,192.2Z"/><path id="s1_67" d="M258.5,193.5C259.4,193.2 262.9,194.4 266,195.4C269.1,196.4 272.4,197.8 276,199.1C279.6,200.5 283.2,201.8 286,202.9C288.8,203.9 291.6,204.4 291.6,205C291.6,205.6 288.8,206.3 286,206C283.2,205.7 279.4,204.5 276,203.5C272.6,202.5 270,201.5 267.2,200.4C264.5,199.3 262.3,198.5 260.8,197.2C259.2,196 257.6,193.8 258.5,193.5Z"/><path id="s1_68" d="M261,195.4C261.7,195.2 264,195.6 266,196.2C268,196.9 270.2,197.8 272.2,198.8C274.3,199.7 277.2,201.2 277.2,201.5C277.2,201.8 274.1,201 272.2,200.6C270.4,200.3 269.1,200.2 267.2,199.6C265.4,199.1 263.4,198.3 262.2,197.5C261.1,196.7 260.3,195.6 261,195.4Z"/><path id="s1_69" d="M291,208.5C292.1,208.1 295,207.2 296,207.9C297,208.6 297.2,211.3 296.6,212.2C296.1,213.2 294.1,213.6 292.9,213.2C291.6,212.9 290.1,211.2 289.8,210.4C289.4,209.5 289.9,208.9 291,208.5Z"/><path id="s1_70" d="M320.6,152.5C320.6,152.2 321.3,151.8 321.6,151.8C322,151.8 322.6,152.2 322.6,152.5C322.6,152.8 322,153.2 321.6,153.2C321.3,153.2 320.6,152.8 320.6,152.5Z"/><path id="s1_71" d="M329,150.9C329,150.5 331.2,149.9 332.5,149.9C333.8,149.9 336,150.5 336,150.9C336,151.2 333.8,151.9 332.5,151.9C331.2,151.9 329,151.2 329,150.9Z"/><path id="s1_72" d="M324.8,155.9C324.8,155.5 325.4,154.9 325.8,154.9C326.1,154.9 326.8,155.5 326.8,155.9C326.8,156.2 326.1,156.9 325.8,156.9C325.4,156.9 324.8,156.2 324.8,155.9Z"/><path id="s1_73" d="M327.6,159C327.6,158.7 328.2,158.2 328.5,158.2C328.8,158.2 329.4,158.7 329.4,159C329.4,159.3 328.8,159.8 328.5,159.8C328.2,159.8 327.6,159.3 327.6,159Z"/><path id="s1_74" d="M331.5,157.5C331.5,156.9 332,155.8 332.2,155.8C332.5,155.8 333,156.9 333,157.5C333,158.1 332.5,159.2 332.2,159.2C332,159.2 331.5,158.1 331.5,157.5Z"/><path id="s1_75" d="M333.5,158.4C333.5,157.8 335.5,156.9 336.6,156.9C337.7,156.9 339.8,157.8 339.8,158.4C339.8,158.9 337.7,159.9 336.6,159.9C335.5,159.9 333.5,158.9 333.5,158.4Z"/><path id="s1_76" d="M317.8,161.2C317.8,161 318.8,160.5 319.4,160.5C320,160.5 321,161 321,161.2C321,161.5 320,162 319.4,162C318.8,162 317.8,161.5 317.8,161.2Z"/><path id="s1_77" d="M351,168.1C351,167.8 351.6,167.4 352,167.4C352.4,167.4 353,167.8 353,168.1C353,168.4 352.4,168.9 352,168.9C351.6,168.9 351,168.4 351,168.1Z"/><path id="s1_78" d="M356,169.6C356,169.3 356.6,168.8 356.9,168.8C357.2,168.8 357.8,169.3 357.8,169.6C357.8,169.9 357.2,170.5 356.9,170.5C356.6,170.5 356,169.9 356,169.6Z"/><path id="s1_79" d="M303.4,182.8C303.4,182.4 304.1,181.9 304.5,181.9C304.9,181.9 305.6,182.4 305.6,182.8C305.6,183.1 304.9,183.6 304.5,183.6C304.1,183.6 303.4,183.1 303.4,182.8Z"/><path id="s1_80" d="M311,181.5C311,181.1 312,180.4 312.5,180.4C313,180.4 314,181.1 314,181.5C314,181.9 313,182.6 312.5,182.6C312,182.6 311,181.9 311,181.5Z"/><path id="s1_81" d="M340.8,183.2C340.8,183 341.4,182.5 341.8,182.5C342.1,182.5 342.8,183 342.8,183.2C342.8,183.5 342.1,184 341.8,184C341.4,184 340.8,183.5 340.8,183.2Z"/><path id="s1_82" d="M341.1,190C341.1,189.1 342.1,187.5 342.6,187.5C343.2,187.5 344.1,189.1 344.1,190C344.1,190.9 343.2,192.5 342.6,192.5C342.1,192.5 341.1,190.9 341.1,190Z"/><path id="s1_83" d="M347.9,196.5C347.9,196.2 348.5,195.8 348.9,195.8C349.2,195.8 349.9,196.2 349.9,196.5C349.9,196.8 349.2,197.2 348.9,197.2C348.5,197.2 347.9,196.8 347.9,196.5Z"/><path id="s1_84" d="M351.2,201.2C351.2,200 354.3,197.8 356,197.8C357.7,197.8 360.8,200 360.8,201.2C360.8,202.5 357.7,204.8 356,204.8C354.3,204.8 351.2,202.5 351.2,201.2Z"/><path id="s1_85" d="M307,103.4C307.2,102 309,99.2 310.2,97.2C311.3,95.2 312.2,93.8 313.3,92.5C314.3,91.2 315.6,89.1 315.9,89.7C316.3,90.3 315,93.7 315.3,95.6C315.6,97.5 316.3,98.6 317.5,100.3C318.7,102.1 322.5,104.3 322.2,105.3C321.9,106.3 317.9,106 315.6,105.9C313.3,105.9 310.9,105.5 309.4,105C307.8,104.5 306.9,104.8 307,103.4Z"/><path id="s1_86" d="M309.4,101.9C309.1,100.6 311.4,97.3 312.5,97.2C313.6,97 315.3,99.8 315.6,101.1C315.9,102.4 315.2,104.1 314.1,104.2C312.9,104.4 309.7,103.1 309.4,101.9Z"/><path id="s1_87" d="M310.6,100C310.8,99.7 311.7,99.7 311.9,100C312.1,100.3 312.1,101.2 311.9,101.4C311.7,101.7 310.8,101.7 310.6,101.4C310.4,101.2 310.4,100.3 310.6,100Z"/><path id="s1_88" d="M90.5,183.8C91.4,181.2 93.5,182.6 95.5,182.5C97.5,182.4 100.2,182.3 101.8,183.1C103.3,183.9 104,185.6 104.2,186.9C104.5,188.1 101.9,189.3 103,190C104.1,190.7 109.3,190.4 110.5,191C111.7,191.6 110.8,192.5 109.9,193.1C109,193.7 106,193.5 105.5,194.4C105,195.3 107.6,197.2 107.4,198.1C107.2,199.1 105.7,199.9 104.2,199.8C102.8,199.6 100.6,198.5 99.2,197.5C97.9,196.5 97.9,194.6 96.8,194.4C95.6,194.2 94.1,195.8 93,196.2C91.9,196.7 91,199.1 90.5,196.9C90,194.6 89.6,186.3 90.5,183.8Z"/><path id="s1_89" d="M90.5,185C91.4,183.8 93.7,184.4 95.5,184.4C97.3,184.4 99.7,184.2 100.5,185C101.3,185.8 100.8,187.8 99.9,188.8C99,189.7 97.2,189.6 95.5,190C93.8,190.4 91.4,192.2 90.5,191.2C89.6,190.3 89.6,186.2 90.5,185Z"/><path id="s1_90" d="M90.2,201.2C90.7,194.9 92.4,201.3 92.8,201.9C93.1,202.4 92,203.5 92.1,204.4C92.2,205.3 92.6,206 93.4,206.9C94.2,207.8 95.3,208.7 96.5,209.4C97.7,210.1 98.8,210.3 100.2,210.6C101.7,211 103.9,210.8 104.6,211.2C105.3,211.7 104.7,212.6 104,213.1C103.3,213.7 101.8,213.7 100.9,214.4C100,215.1 99.8,215.9 99,216.9C98.2,217.9 96.8,218.8 96.5,220C96.2,221.2 96.7,222.5 97.1,223.8C97.6,225 98,225.6 99,226.9C100,228.1 101.3,229.3 102.8,230.6C104.2,232 106.4,233.3 107.1,234.4C107.8,235.5 107.3,236.5 106.5,236.9C105.7,237.2 104.1,236.5 102.8,236.2C101.4,236 100.3,235.8 99,235.6C97.7,235.4 96.5,234.9 95.2,235C94,235.1 93,235.9 92.1,236.2C91.2,236.6 90.6,243.2 90.2,236.9C89.9,230.6 89.8,207.6 90.2,201.2Z"/><path id="s1_91" d="M90.2,207.5C90.9,203.2 92.9,209.1 94,210C95.1,210.9 96.2,210.9 96.5,212.5C96.8,214.1 95.9,216.5 95.9,218.8C95.9,221 95.7,222.8 96.5,225C97.3,227.2 100.2,229.8 100.2,231.2C100.2,232.7 98.3,232.7 96.5,233.1C94.7,233.6 91.4,238.4 90.2,233.8C89.1,229.1 89.6,211.8 90.2,207.5Z"/><path id="s1_92" d="M90.2,215C91,212.5 93.7,215.9 94.6,217.5C95.5,219.1 94.7,221.5 95.2,223.8C95.8,226 98,228.5 97.8,230C97.5,231.5 95.3,231.7 94,231.9C92.7,232.1 90.9,234.3 90.2,231.2C89.6,228.2 89.5,217.5 90.2,215Z"/><path id="s1_93" d="M90.2,215C90.5,213.5 91.3,214.9 91.8,215.6C92.2,216.3 92.7,217.5 92.8,218.8C92.8,220 92.7,221.6 92.2,222.5C91.8,223.4 90.6,225.3 90.2,224C89.9,222.7 90,216.5 90.2,215Z"/><path id="s1_94" d="M103.4,220C103.7,219.7 104.9,219.7 105.2,220C105.6,220.3 105.6,221.2 105.2,221.5C104.9,221.8 103.7,221.8 103.4,221.5C103,221.2 103,220.3 103.4,220Z"/><path id="s1_95" d="M120.5,225C120.5,224.6 121.5,224.9 122.1,225.4C122.7,225.9 123.8,227.3 123.8,227.8C123.8,228.2 122.7,228.2 122.1,227.8C121.5,227.3 120.5,225.4 120.5,225Z"/><path id="s1_96" d="M107.1,238.1C107.2,237.7 108.4,238 109,238.5C109.6,239 110.6,240.6 110.5,241C110.4,241.4 109.1,241.1 108.5,240.6C107.9,240.1 107,238.5 107.1,238.1Z"/><path id="s1_97" d="M111.8,239.4C111.9,238.8 113,238.6 114,239C115,239.4 116.2,240.9 117.1,241.9C118.1,242.8 119,243.5 119.2,244.4C119.5,245.2 119,246.4 118.4,246.5C117.8,246.6 116.8,245.7 115.9,245C115,244.3 114.1,243.5 113.4,242.5C112.6,241.5 111.6,240 111.8,239.4Z"/><path id="s1_98" d="M120.5,243.8C120.7,243.6 121.3,243.6 121.5,243.8C121.7,243.9 121.7,244.6 121.5,244.8C121.3,244.9 120.7,244.9 120.5,244.8C120.3,244.6 120.3,243.9 120.5,243.8Z"/><path id="s1_99" d="M103.6,220C103.9,219.7 105,219.7 105.2,220C105.5,220.3 105.5,221.2 105.2,221.5C105,221.8 103.9,221.8 103.6,221.5C103.3,221.2 103.3,220.3 103.6,220Z"/><path id="s1_100" d="M134.4,247.2C135.3,247 137.6,247.6 140,248.1C142.4,248.6 144.8,250 147.5,250C150.2,250 152.5,248.8 155,248.1C157.5,247.4 159.2,247.2 161.2,246.2C163.3,245.3 164.9,244.7 166.2,243.1C167.6,241.5 167.6,239.3 168.8,237.5C169.9,235.7 171.4,234.2 172.5,233.1C173.6,232 174.9,232.2 175,231.2C175.1,230.3 173.3,229.4 173.1,228.1C172.9,226.9 172.7,225.7 173.8,224.4C174.8,223 176.8,221.4 178.8,220.6C180.7,219.8 183.3,219.6 184.4,220C185.5,220.4 185.3,221.5 185,223.1C184.7,224.7 183.2,227.1 182.5,228.8C181.8,230.4 181.2,231.2 181.2,232.5C181.2,233.8 181.8,234.4 182.5,236.2C183.2,238.1 183.7,240 185,242.5C186.3,245 187.8,247.5 190,250C192.2,252.5 194.8,254.4 197.5,256.2C200.2,258.1 203.9,258.8 205,260C206.1,261.2 205.1,262.2 203.8,263.1C202.4,264 200,264.8 197.5,265C195,265.2 192.7,264.4 190,264.4C187.3,264.4 185.2,265.3 182.5,265C179.8,264.7 177.2,263.4 175,262.5C172.8,261.6 172.2,260.7 170,260C167.8,259.3 165,258.8 162.5,258.8C160,258.8 157.8,260.2 156.2,260C154.7,259.8 155.3,258.4 153.8,257.5C152.2,256.6 150,255.8 147.5,255C145,254.2 142.2,254.1 140,253.1C137.8,252.1 136,250.4 135,249.4C134,248.3 133.5,247.5 134.4,247.2Z"/><path id="s1_101" d="M151.2,251.2C152.4,250.1 157.1,249.9 160,248.8C162.9,247.6 165.7,244.3 167.5,245C169.3,245.7 168.7,250 170,252.5C171.3,255 172.3,256.9 175,258.8C177.7,260.6 181.4,261.7 185,262.5C188.6,263.3 194.1,262.9 195,263.1C195.9,263.3 192.7,263.8 190,263.8C187.3,263.8 183.6,264 180,263.1C176.4,262.2 173.4,259.9 170,258.8C166.6,257.6 164.2,257.6 161.2,256.9C158.3,256.2 155.6,256 153.8,255C151.9,254 150.1,252.4 151.2,251.2Z"/><path id="s1_102" d="M171.2,237.5C172.2,236.6 173.4,237.8 175,238.8C176.6,239.7 178.2,240.5 180,242.5C181.8,244.5 182.8,247.5 185,250C187.2,252.5 189.8,254.4 192.5,256.2C195.2,258.1 198.9,259 200,260C201.1,261 200.1,261.7 198.8,261.9C197.4,262.1 195,261.7 192.5,261.2C190,260.8 187.7,260.2 185,259.4C182.3,258.6 179.8,257.7 177.5,256.9C175.2,256.1 174,255.9 172.5,255C171,254.1 169.8,253.9 169.4,251.9C168.9,249.9 169.7,246.3 170,243.8C170.3,241.2 170.3,238.4 171.2,237.5Z"/><path id="s1_103" d="M173.8,240.6C174.8,240.1 176.9,242.9 178.8,245C180.6,247.1 181.5,250.2 183.8,252.5C186,254.8 188.7,256.1 191.2,257.5C193.8,258.9 198.3,259.9 198.1,260.2C197.9,260.6 192.8,260 190,259.4C187.2,258.8 185,258 182.5,256.9C180,255.8 178,254.7 176.2,253.1C174.5,251.5 173.2,250.4 172.8,248.1C172.3,245.9 172.7,241.2 173.8,240.6Z"/><path id="s1_104" d="M173,225C173.3,223.7 174.4,223.4 175.5,222.5C176.6,221.6 177.7,220.6 179.2,220C180.8,219.4 183.2,218.7 184.2,219.4C185.3,220.1 185.1,222.2 184.9,223.8C184.7,225.3 184.2,226.5 183,228.1C181.8,229.7 179.7,232.2 178,232.5C176.3,232.8 174.5,231.3 173.6,230C172.7,228.7 172.7,226.3 173,225Z"/><path id="s1_105" d="M120.6,225.6C120.6,225.1 121.7,224.7 122.2,225C122.8,225.3 123.8,226.8 123.8,227.2C123.8,227.7 122.8,228 122.2,227.8C121.7,227.5 120.6,226.1 120.6,225.6Z"/></defs>
<g filter="url(#h)"><g fill="#55eb55" stroke="#55eb55" stroke-linejoin="round"><use href="#s1_0" fill="#32cd3c" stroke-width="1.7"/><use href="#s1_10" stroke-width="2.7"/><use href="#s1_12" stroke="none"/><use href="#s1_13" stroke="none"/><use href="#s1_14" stroke="none"/><use href="#s1_15" fill="#32cd3c" stroke-width="1.7"/><use href="#s1_37" stroke-width="14.6"/><use href="#s1_40" stroke-width="10.8"/><use href="#s1_58" fill="#32cd3c" stroke-width="1.7"/><use href="#s1_61" stroke="none"/><use href="#s1_70" stroke="none"/><use href="#s1_71" stroke="none"/><use href="#s1_72" stroke="none"/><use href="#s1_73" stroke="none"/><use href="#s1_74" stroke="none"/><use href="#s1_75" stroke="none"/><use href="#s1_76" stroke="none"/><use href="#s1_77" stroke="none"/><use href="#s1_78" stroke="none"/><use href="#s1_79" stroke="none"/><use href="#s1_80" stroke="none"/><use href="#s1_81" stroke="none"/><use href="#s1_82" stroke="none"/><use href="#s1_83" stroke="none"/><use href="#s1_84" fill="#32cd3c" stroke-width="1.7"/><use href="#s1_85" fill="#32cd3c" stroke-width="1.7"/><use href="#s1_88" fill="#32cd3c" stroke-width="1.7"/><use href="#s1_90" fill="#32cd3c" stroke-width="1.7"/><use href="#s1_94" stroke="none"/><use href="#s1_95" stroke="none"/><use href="#s1_96" stroke="none"/><use href="#s1_97" stroke="none"/><use href="#s1_98" stroke="none"/><use href="#s1_99" stroke="none"/><use href="#s1_104" fill="#32cd3c" stroke-width="1.7"/><use href="#s1_105" stroke="none"/></g>
<g fill="#32cd3c" stroke="#32cd3c" stroke-linejoin="round"><use href="#s1_1" stroke="none"/><use href="#s1_6" stroke="none"/><use href="#s1_9" stroke="none"/><use href="#s1_10" stroke-width="1.8"/><use href="#s1_11" stroke="none"/><use href="#s1_16" stroke="none"/><use href="#s1_37" stroke-width="13.1"/><use href="#s1_40" stroke-width="9.6"/><use href="#s1_59" stroke="none"/><use href="#s1_89" stroke="none"/></g>
</g>
<g fill="#55eb55" stroke="#55eb55" stroke-linejoin="round"><use href="#s1_62" fill="#32cd3c" stroke-width="1.7"/><use href="#s1_100" fill="#32cd3c" stroke-width="1.7"/></g>
<g fill="#32cd3c" stroke="#32cd3c" stroke-linejoin="round"><use href="#s1_63" stroke="none"/></g>
<g fill="#14aa1e" stroke="#14aa1e" stroke-linejoin="round"><use href="#s1_2" stroke="none"/><use href="#s1_7" stroke="none"/><use href="#s1_8" stroke="none"/><use href="#s1_10" stroke-width="0.9"/><use href="#s1_17" stroke="none"/><use href="#s1_37" stroke-width="11.7"/><use href="#s1_40" stroke-width="8.4"/><use href="#s1_60" stroke="none"/><use href="#s1_64" stroke="none"/><use href="#s1_86" stroke="none"/><use href="#s1_91" stroke="none"/><use href="#s1_101" stroke="none"/></g>
<g fill="#008700" stroke="#008700" stroke-linejoin="round"><use href="#s1_3" stroke="none"/><use href="#s1_4" stroke="none"/><use href="#s1_5" stroke="none"/><use href="#s1_10" stroke="none"/><use href="#s1_18" stroke="none"/><use href="#s1_37" stroke-width="10.2"/><use href="#s1_40" stroke-width="7.2"/><use href="#s1_45" stroke-width="5"/><use href="#s1_65" stroke="none"/><use href="#s1_66" stroke-width="2.4"/><use href="#s1_92" stroke="none"/></g>
<g fill="#beebfa" stroke="#beebfa" stroke-linejoin="round"><use href="#s1_19" stroke-width="0.9"/><use href="#s1_24" stroke="none"/><use href="#s1_25" stroke="none"/><use href="#s1_26" stroke="none"/><use href="#s1_27" stroke="none"/><use href="#s1_28" stroke="none"/><use href="#s1_29" stroke="none"/><use href="#s1_30" stroke="none"/><use href="#s1_31" stroke="none"/><use href="#s1_36" stroke-width="0.8"/><use href="#s1_37" stroke-width="8.8"/><use href="#s1_38" stroke-width="4.4"/><use href="#s1_39" stroke-width="3"/><use href="#s1_40" stroke-width="6"/><use href="#s1_45" stroke-width="4"/><use href="#s1_50" stroke-width="1"/><use href="#s1_66" stroke-width="1.2"/><use href="#s1_93" stroke-width="0.6"/><use href="#s1_102" stroke-width="2.7"/></g>
<g fill="#ffa500" stroke="#ffa500" stroke-linejoin="round"><use href="#s1_19" stroke="none"/><use href="#s1_36" stroke="none"/><use href="#s1_37" stroke-width="7.3"/><use href="#s1_38" stroke-width="3.3"/><use href="#s1_39" stroke-width="2"/><use href="#s1_40" stroke-width="4.8"/><use href="#s1_45" stroke-width="3"/><use href="#s1_50" stroke="none"/><use href="#s1_66" stroke="none"/><use href="#s1_87" stroke="none"/><use href="#s1_93" stroke="none"/><use href="#s1_102" stroke-width="1.8"/></g>
<g fill="#ff7300" stroke="#ff7300" stroke-linejoin="round"><use href="#s1_20" stroke="none"/><use href="#s1_37" stroke-width="5.8"/><use href="#s1_38" stroke-width="2.2"/><use href="#s1_39" stroke-width="1"/><use href="#s1_40" stroke-width="3.6"/><use href="#s1_45" stroke-width="2"/><use href="#s1_51" stroke="none"/><use href="#s1_67" stroke-width="2"/><use href="#s1_102" stroke-width="0.9"/></g>
<g fill="#ff3200" stroke="#ff3200" stroke-linejoin="round"><use href="#s1_21" stroke="none"/><use href="#s1_22" stroke="none"/><use href="#s1_23" stroke="none"/><use href="#s1_32" stroke="none"/><use href="#s1_34" stroke="none"/><use href="#s1_37" stroke-width="4.4"/><use href="#s1_38" stroke-width="1.1"/><use href="#s1_39" stroke="none"/><use href="#s1_40" stroke-width="2.4"/><use href="#s1_45" stroke-width="1"/><use href="#s1_67" stroke-width="1"/><use href="#s1_102" stroke="none"/></g>
<g fill="#d7190a" stroke="#d7190a" stroke-linejoin="round"><use href="#s1_33" stroke-width="1"/><use href="#s1_35" stroke-width="1"/><use href="#s1_37" stroke-width="2.9"/><use href="#s1_38" stroke="none"/><use href="#s1_40" stroke-width="1.2"/><use href="#s1_45" stroke="none"/><use href="#s1_67" stroke="none"/><use href="#s1_103" stroke-width="1.6"/></g>
<g fill="#aa0000" stroke="#aa0000" stroke-linejoin="round"><use href="#s1_33" stroke="none"/><use href="#s1_35" stroke="none"/><use href="#s1_37" stroke-width="1.5"/><use href="#s1_40" stroke="none"/><use href="#s1_46" stroke="none"/><use href="#s1_47" stroke-width="1"/><use href="#s1_68" stroke-width="0.8"/><use href="#s1_103" stroke-width="0.8"/></g>
<g fill="#6e0000" stroke="#6e0000" stroke-linejoin="round"><use href="#s1_37" stroke="none"/><use href="#s1_47" stroke="none"/><use href="#s1_68" stroke="none"/><use href="#s1_103" stroke="none"/></g>
<use href="#s1_41" fill="#aa0000"/>
<use href="#s1_42" fill="#d7190a"/>
<use href="#s1_43" fill="#aa0000"/>
<use href="#s1_44" fill="#ff3200"/>
<use href="#s1_48" fill="#ff7300"/>
<use href="#s1_49" fill="#ff7300"/>
<use href="#s1_52" fill="#beebfa"/>
<use href="#s1_53" fill="#beebfa" stroke="#beebfa" stroke-width="1.4" stroke-linejoin="round"/><use href="#s1_53" fill="#008700"/>
<use href="#s1_54" fill="#beebfa"/>
<use href="#s1_55" fill="#ffffff"/>
<use href="#s1_56" fill="#ffffff"/>
<use href="#s1_57" fill="#ffffff"/>
<use href="#s1_69" fill="#beebfa"/>
</g>
<path class="g" d="M125.5,17.3V267 M159.2,17.3V267 M192.8,17.3V267 M226.5,17.3V267 M260.2,17.3V267 M293.9,17.3V267 M327.6,17.3V267 M361.2,17.3V267 M108.8,38.2H361.2 M108.8,72H361.2 M108.8,105.8H361.2 M108.8,139.7H361.2 M108.8,173.6H361.2 M108.8,207.4H361.2 M108.8,241.2H361.2"/>
<g clip-path="url(#clip1)"><use href="#coast" transform="translate(91.8,72) scale(3.368,3.385)"/></g>
<text class="ax" x="100.1" y="40.2">10N</text><text class="ax" x="100.1" y="74">0</text><text class="ax" x="100.1" y="107.8">10S</text><text class="ax" x="100.1" y="141.7">20S</text><text class="ax" x="100.1" y="175.6">30S</text><text class="ax" x="100.1" y="209.4">40S</text><text class="ax" x="100.1" y="243.2">50S</text><text class="ax" x="123.8" y="272.2">90W</text><text class="ax" x="157.5" y="272.2">80W</text><text class="ax" x="191.1" y="272.2">70W</text><text class="ax" x="224.8" y="272.2">60W</text><text class="ax" x="258.5" y="272.2">50W</text><text class="ax" x="292.2" y="272.2">40W</text><text class="ax" x="325.9" y="272.2">30W</text>
<text class="cap" x="50" y="279.7" textLength="356.5" lengthAdjust="spacingAndGlyphs" xml:space="preserve">NOAA GEFS 20210809 00zCYC FCST Probability of Week1 Precip &gt; 50mm  VALID 20210816/0000V168</text>
<rect x="365.4" y="93.9" width="5.6" height="13.8" fill="#6e0000"/><rect x="365.4" y="107.5" width="5.6" height="13.8" fill="#aa0000"/><rect x="365.4" y="121.2" width="5.6" height="13.8" fill="#d7190a"/><rect x="365.4" y="134.8" width="5.6" height="13.8" fill="#ff3200"/><rect x="365.4" y="148.5" width="5.6" height="13.8" fill="#ff7300"/><rect x="365.4" y="162.1" width="5.6" height="13.8" fill="#ffa500"/><rect x="365.4" y="175.7" width="5.6" height="13.8" fill="#beebfa"/><rect x="365.4" y="189.4" width="5.6" height="13.8" fill="#008700"/><rect x="365.4" y="203" width="5.6" height="13.8" fill="#14aa1e"/><rect x="365.4" y="216.7" width="5.6" height="13.8" fill="#32cd3c"/><rect x="365.4" y="230.3" width="5.6" height="13.8" fill="#55eb55"/><rect x="365.4" y="243.9" width="5.6" height="13.8" fill="#ffffff"/><rect x="365.4" y="93.9" width="5.6" height="163.7" fill="none" stroke="#777" stroke-width="0.5"/><path d="M365.4,107.5h5.6" stroke="rgba(0,0,0,0.35)" stroke-width="0.5"/><text class="cb" x="371.6" y="109.4">95</text><path d="M365.4,121.2h5.6" stroke="rgba(0,0,0,0.35)" stroke-width="0.5"/><text class="cb" x="371.6" y="123.1">90</text><path d="M365.4,134.8h5.6" stroke="rgba(0,0,0,0.35)" stroke-width="0.5"/><text class="cb" x="371.6" y="136.7">80</text><path d="M365.4,148.5h5.6" stroke="rgba(0,0,0,0.35)" stroke-width="0.5"/><text class="cb" x="371.6" y="150.4">70</text><path d="M365.4,162.1h5.6" stroke="rgba(0,0,0,0.35)" stroke-width="0.5"/><text class="cb" x="371.6" y="164">60</text><path d="M365.4,175.7h5.6" stroke="rgba(0,0,0,0.35)" stroke-width="0.5"/><text class="cb" x="371.6" y="177.6">50</text><path d="M365.4,189.4h5.6" stroke="rgba(0,0,0,0.35)" stroke-width="0.5"/><text class="cb" x="371.6" y="191.3">40</text><path d="M365.4,203h5.6" stroke="rgba(0,0,0,0.35)" stroke-width="0.5"/><text class="cb" x="371.6" y="204.9">30</text><path d="M365.4,216.7h5.6" stroke="rgba(0,0,0,0.35)" stroke-width="0.5"/><text class="cb" x="371.6" y="218.6">20</text><path d="M365.4,230.3h5.6" stroke="rgba(0,0,0,0.35)" stroke-width="0.5"/><text class="cb" x="371.6" y="232.2">10</text><path d="M365.4,243.9h5.6" stroke="rgba(0,0,0,0.35)" stroke-width="0.5"/><text class="cb" x="371.6" y="245.8">5</text>
<text class="t" x="226.9" y="106.2" textLength="55.0" lengthAdjust="spacing">50 mm</text>
</g>
<g id="panel2">
<clipPath id="clip2"><rect x="683.2" y="17.6" width="271.3" height="256.2"/></clipPath>
<g clip-path="url(#clip2)" filter="url(#b)">
<defs><path id="s2_0" d="M788.5,17.2C797.4,15.6 827.8,16.3 837.2,17.2C846.7,18.2 839,21.2 841,22.8C843,24.3 846.2,25 848.5,25.9C850.8,26.8 850.8,27.5 853.5,27.8C856.2,28 861.2,26.7 863.5,27.1C865.8,27.6 864.6,29.9 866,30.2C867.4,30.6 869.2,29.6 871,29C872.8,28.4 873.8,27.3 876,27.1C878.2,26.9 881.2,28 883.5,27.8C885.8,27.5 886.2,26.6 888.5,25.9C890.8,25.2 893.8,24.2 896,24C898.2,23.8 899.6,24.2 901,24.6C902.4,25.1 905.8,26.4 904,26.5C902.2,26.6 892,25.8 890.8,25.2C889.5,24.7 895,23.2 897,23.4C899,23.6 899.8,26.1 902,26.5C904.2,26.9 907,26.1 909.5,25.9C912,25.7 913.5,25.4 915.8,25.2C918,25.1 920.4,24.8 922,25.2C923.6,25.7 922.7,26.9 924.5,27.8C926.3,28.6 929.3,29.6 932,30.2C934.7,30.9 937,31.4 939.5,31.5C942,31.6 944.4,31.6 945.8,30.9C947.1,30.2 945.9,28.1 947,27.8C948.1,27.4 950.4,28.9 952,29C953.6,29.1 955.1,24.2 955.8,28.4C956.4,32.5 957.3,47.5 955.8,52.1C954.2,56.7 950.4,53.4 947,54C943.6,54.6 940.4,55.2 937,55.2C933.6,55.2 931,53.9 928.2,54C925.5,54.1 924.5,55.4 922,55.9C919.5,56.3 917.2,56.2 914.5,56.5C911.8,56.8 909.7,57.3 907,57.8C904.3,58.2 901.8,58.1 899.5,59C897.2,59.9 896.8,61.4 894.5,62.8C892.2,64.1 889.7,66 887,66.5C884.3,67 881.5,66.2 879.5,65.2C877.5,64.3 877.7,61.8 875.8,61.5C873.8,61.2 871.2,62.9 868.5,63.4C865.8,63.8 863.2,64.3 861,64C858.8,63.7 857.8,62.4 856,61.5C854.2,60.6 852.8,60.1 851,59C849.2,57.9 847.8,56.6 846,55.2C844.2,53.9 843.7,52.4 841,51.5C838.3,50.6 831.9,47.8 831,50.2C830.1,52.7 834.2,61.9 836,65.2C837.8,68.6 840.5,67.4 841,69C841.5,70.6 839.6,71.8 838.5,74C837.4,76.2 836.5,79.7 834.8,81.5C833,83.3 830.8,83.8 828.5,84C826.2,84.2 824.5,83.7 822.2,82.8C820,81.8 816.9,80.6 816,79C815.1,77.4 817.7,75.8 817.2,74C816.8,72.2 815.8,69.7 813.5,69C811.2,68.3 806.5,69.1 804.8,70.2C803,71.4 804.9,73.2 803.5,75.2C802.1,77.3 799.5,80.8 797.2,81.5C795,82.2 792.6,80.8 791,79C789.4,77.2 789.9,73.3 788.5,71.5C787.1,69.7 785.3,68.8 783.5,69C781.7,69.2 779.9,70.5 778.5,72.8C777.1,75 777.8,80.8 776,81.5C774.2,82.2 769.9,84.2 768.5,76.5C767.1,68.8 767.1,46.4 768.5,39C769.9,31.6 773.3,36.4 776,35.2C778.7,34.1 781.2,33.2 783.5,32.8C785.8,32.3 787.7,33.9 788.5,32.8C789.3,31.6 787.9,29.3 787.9,26.5C787.9,23.7 779.6,18.9 788.5,17.2Z"/><path id="s2_1" d="M814.8,19C818.4,17.6 831.5,18.1 836,19C840.5,19.9 837.5,22.4 839.8,24C842,25.6 846,26.7 848.5,27.8C851,28.8 852.6,27.6 853.5,29.6C854.4,31.6 851.7,37 853.5,39C855.3,41 859.5,40.5 863.5,40.9C867.5,41.2 871.5,41.2 876,40.9C880.5,40.5 884,39.6 888.5,39C893,38.4 898.3,37.8 901,37.8C903.7,37.8 900.6,39.5 903.2,39C905.9,38.5 911.9,36.1 915.8,35.2C919.6,34.4 921.6,33.5 924.5,34C927.4,34.5 929.5,36.2 932,37.8C934.5,39.3 937.8,40.3 938.2,42.8C938.7,45.2 937,49.7 934.5,51.5C932,53.3 928.1,52.2 924.5,52.8C920.9,53.3 918.1,54.1 914.5,54.6C910.9,55.2 908.1,55.3 904.5,55.9C900.9,56.4 897.6,56.5 894.5,57.8C891.4,59 889.7,62 887,62.8C884.3,63.5 882.8,62.3 879.5,62.1C876.2,61.9 871.8,61.8 868.5,61.5C865.2,61.2 863.7,60.9 861,60.2C858.3,59.6 856.2,59.3 853.5,57.8C850.8,56.2 848.7,53.3 846,51.5C843.3,49.7 841.2,48.4 838.5,47.8C835.8,47.1 833.2,46.4 831,47.8C828.8,49.1 826,52.3 826,55.2C826,58.2 830.1,60.9 831,64C831.9,67.2 832.4,70.5 831,72.8C829.6,75 825.8,76.5 823.5,76.5C821.2,76.5 819.6,74.5 818.5,72.8C817.4,71 819.3,67.6 817.2,66.5C815.2,65.4 810.2,65.4 807.2,66.5C804.3,67.6 803.2,71.4 801,72.8C798.8,74.1 796.5,74.9 794.8,74C793,73.1 792.1,69.8 791,67.8C789.9,65.7 788.7,65.7 788.5,62.8C788.3,59.8 789.8,55.8 789.8,51.5C789.8,47.2 786.5,41.9 788.5,39C790.5,36.1 796.3,36.1 801,35.2C805.7,34.4 812,35.6 814.8,34C817.5,32.4 816,29.2 816,26.5C816,23.8 811.1,20.4 814.8,19Z"/><path id="s2_2" d="M817.2,22.8C820.4,20.7 831.7,20.8 836,21.5C840.3,22.2 838.3,24.9 841,26.5C843.7,28.1 848.8,28 851,30.2C853.2,32.5 851.2,36.9 853.5,39C855.8,41.1 859.5,41.4 863.5,42.1C867.5,42.8 871.5,42.6 876,42.8C880.5,42.9 884,42.9 888.5,42.8C893,42.6 898.3,42.3 901,42.1C903.7,41.9 900.6,42.1 903.2,41.5C905.9,40.9 911.9,39.7 915.8,39C919.6,38.3 921.6,37.1 924.5,37.8C927.4,38.4 930.6,40.3 932,42.8C933.4,45.2 933.8,49.7 932,51.5C930.2,53.3 925.6,52.4 922,52.8C918.4,53.1 915.6,53 912,53.4C908.4,53.7 905.8,54.3 902,54.6C898.2,55 894.8,54.9 890.8,55.2C886.7,55.6 880.4,56.3 879.5,56.5C878.6,56.7 886.6,56.3 886,56.5C885.4,56.7 880,57.6 876,57.8C872,57.9 867.5,57.8 863.5,57.1C859.5,56.4 856.6,55.9 853.5,54C850.4,52.1 849.1,47.9 846,46.5C842.9,45.1 839.1,47 836,46.5C832.9,46 830.8,45.4 828.5,44C826.2,42.6 825.3,41 823.5,39C821.7,37 819.6,35.7 818.5,32.8C817.4,29.8 814.1,24.8 817.2,22.8Z"/><path id="s2_3" d="M827.2,24C828.4,22.8 833.4,22.7 836,23.4C838.6,24.1 840.3,26.1 841.6,27.8C843,29.4 844.5,31.6 843.5,32.8C842.5,33.9 838.5,34.5 836,34C833.5,33.5 831.3,32 829.8,30.2C828.2,28.4 826.1,25.2 827.2,24Z"/><path id="s2_4" d="M883.5,50.2C885.1,51.4 891.1,51 894.8,51.5C898.4,52 900.8,52.8 903.5,52.8C906.2,52.8 905.7,51.6 909.5,51.5C913.3,51.4 920.5,52.6 924.5,52.1C928.5,51.7 932,50.2 932,49C932,47.8 928.5,45.9 924.5,45.2C920.5,44.6 914.5,45.1 909.5,45.2C904.5,45.4 901.5,45.7 897,45.9C892.5,46.1 886.5,46.6 884.5,46.5C882.5,46.4 886.2,44.6 886,45.2C885.8,45.9 881.9,49.1 883.5,50.2Z"/><path id="s2_5" d="M783.5,25.2C785,24.2 788.5,25.1 791,24.6C793.5,24.2 794.8,23 797.2,22.8C799.7,22.5 801.8,23.5 804.8,23.4C807.7,23.3 811.7,21.6 813.5,22.1C815.3,22.7 815.3,25 815,26.5C814.7,28 813.1,29.1 811.6,30.2C810.1,31.4 808.5,31.9 806.6,32.8C804.7,33.6 803.6,34.7 801,35C798.4,35.3 795.2,34.6 792.2,34.6C789.3,34.7 786.4,36 784.8,35.2C783.1,34.5 783.1,32 782.9,30.2C782.7,28.4 782,26.3 783.5,25.2Z"/><path id="s2_6" d="M854.1,32.8C855.7,31.9 861.4,30 863.5,30.2C865.6,30.5 864.2,32.9 866,34C867.8,35.1 874,35.8 873.5,36.5C873,37.2 866.9,38 863.5,37.8C860.1,37.5 856.4,36.1 854.8,35.2C853.1,34.4 852.5,33.6 854.1,32.8Z"/><path id="s2_7" d="M829.8,55.2C830.2,53.3 832.5,52.2 834.8,51.5C837,50.8 840,50.6 842.2,51.5C844.5,52.4 845.9,54.7 847.2,56.5C848.6,58.3 850,60.1 849.8,61.5C849.5,62.9 848,63.5 846,64C844,64.5 841,64.3 838.5,64C836,63.7 833.8,63.7 832.2,62.1C830.7,60.5 829.3,57.2 829.8,55.2Z"/><path id="s2_8" d="M778.5,54C779.4,52 783.2,52.1 784.8,52.8C786.3,53.4 787,55.7 787.2,57.8C787.5,59.8 787.4,62.9 786,64C784.6,65.1 781.1,65.8 779.8,64C778.4,62.2 777.6,56 778.5,54Z"/><path id="s2_9" d="M902,35.2C903,34.4 907.9,33.5 909.5,33.8C911.1,34 912,35.6 911,36.5C910,37.4 905.5,38.7 903.9,38.5C902.3,38.3 901,36.1 902,35.2Z"/><path id="s2_10" d="M792.2,19C793.9,18.4 800,17.9 802.2,18.4C804.5,18.8 805.9,20.6 804.8,21.5C803.6,22.4 798.1,23.4 796,23.4C793.9,23.4 793.6,22.3 792.9,21.5C792.2,20.7 790.6,19.6 792.2,19Z"/><path id="s2_11" d="M806,17.8C807.1,17.2 812.1,17.4 813.5,18C814.9,18.6 814.6,20.3 813.5,20.9C812.4,21.5 808.6,21.8 807.2,21.2C805.9,20.7 804.9,18.3 806,17.8Z"/><path id="s2_12" d="M760,65.2C760.5,63.5 763.2,62 765,60.2C766.8,58.5 768.2,57 770,55.2C771.8,53.5 773.4,52 775,50.2C776.6,48.5 777.9,47.3 778.8,45.2C779.6,43.2 779.1,40.6 780,39C780.9,37.4 782,36.7 783.8,36.5C785.5,36.3 788.4,36.6 790,37.8C791.6,38.9 791.9,40.3 792.5,42.8C793.1,45.2 792.6,48.1 793.1,51.5C793.7,54.9 794.4,58.6 795.6,61.5C796.9,64.4 798.3,67.3 800,67.8C801.7,68.2 803.6,65.1 805,64C806.4,62.9 807.5,59.9 808,61.5C808.5,63.1 808.8,69.6 808,72.8C807.2,75.9 805.4,78.3 803.8,79C802.1,79.7 800.8,77.4 798.8,76.5C796.7,75.6 794.3,74 792.5,74C790.7,74 790.3,75.6 788.8,76.5C787.2,77.4 785.8,78.1 783.8,79C781.7,79.9 779.5,81.5 777.5,81.5C775.5,81.5 774.3,80.3 772.5,79C770.7,77.7 769.3,75.6 767.5,74C765.7,72.4 763.9,71.8 762.5,70.2C761.1,68.7 759.5,67 760,65.2Z"/><path id="s2_13" d="M765,62.8C765.9,60.5 770,58.8 772.5,56.5C775,54.2 777.4,50.5 778.8,50.2C780.1,50 780.5,52.8 780,55.2C779.5,57.7 777.6,61.3 776.2,64C774.9,66.7 774.1,69.3 772.5,70.2C770.9,71.2 768.9,70.3 767.5,69C766.1,67.7 764.1,65 765,62.8Z"/><path id="s2_14" d="M778.8,66.5C779.4,64.7 784.2,64.8 786.2,65.2C788.3,65.7 789.5,67.4 790,69C790.5,70.6 790.1,72.9 788.8,74C787.4,75.1 784.3,76.6 782.5,75.2C780.7,73.9 778.1,68.3 778.8,66.5Z"/><path id="s2_15" d="M767.5,57.8C768.4,56 773.1,52.9 775,51.5C776.9,50.1 777.9,49.6 778.1,50.2C778.3,50.9 777.7,53.2 776.2,55.2C774.8,57.3 771.6,61 770,61.5C768.4,62 766.6,59.5 767.5,57.8Z"/><path id="s2_16" d="M780,54C780.8,52 784.5,51.2 785.6,52.8C786.7,54.3 787,60.7 786.2,62.8C785.5,64.8 782.4,65.6 781.2,64C780.1,62.4 779.2,56 780,54Z"/><path id="s2_17" d="M756.2,63.5C752.4,65.1 755.1,66.1 756.2,67.2C757.4,68.4 760.2,68.4 762.5,69.8C764.8,71.1 767.2,73.1 768.8,74.8C770.3,76.4 769.9,78.1 771.2,79.1C772.6,80.1 774.7,80.7 776.2,80.4C777.8,80 778.6,77.6 780,77.2C781.4,76.9 782.6,79 783.8,78.5C784.9,78 785.1,74.9 786.2,74.8C787.4,74.6 788.6,76.9 790,77.9C791.4,78.9 792.2,80.2 793.8,80.4C795.3,80.6 797,79.2 798.8,79.1C800.5,79 803.1,80.3 803.8,79.8C804.4,79.2 803.4,77.3 802.5,76C801.6,74.7 798.3,73.6 798.8,72.2C799.2,70.9 803,69.4 805,68.5C807,67.6 808.2,66.6 810,67.2C811.8,67.9 813.6,70.3 815,72.2C816.4,74.2 816.1,76.2 817.5,77.9C818.9,79.6 820.9,80.6 822.5,81.6C824.1,82.6 824.9,83.7 826.2,83.5C827.6,83.3 828.9,81.5 830,80.4C831.1,79.3 831.6,78.7 832.5,77.2C833.4,75.8 833.6,73.8 835,72.2C836.4,70.7 838.9,69.6 840,68.5C841.1,67.4 841.7,67.3 841.2,66C840.8,64.7 842.2,62.4 837.5,61C832.8,59.6 825.8,59 815,58.5C804.2,58 788.1,57.6 777.5,58.5C766.9,59.4 760.1,61.9 756.2,63.5Z"/><path id="s2_18" d="M762.5,63.5C758.9,65.8 767.3,70.2 770,72.2C772.7,74.3 774.8,75 777.5,74.8C780.2,74.5 782.3,71 785,71C787.7,71 790.2,75 792.5,74.8C794.8,74.5 794.8,71.5 797.5,69.8C800.2,68 803.9,64.8 807.5,64.8C811.1,64.8 814.8,67.5 817.5,69.8C820.2,72 820.2,76.3 822.5,77.2C824.8,78.2 827.8,76.5 830,74.8C832.2,73 835.5,69.7 835,67.2C834.5,64.8 835.6,62.4 827.5,61C819.4,59.6 801.7,59.3 790,59.8C778.3,60.2 766.1,61.2 762.5,63.5Z"/><path id="s2_19" d="M841.2,74.8C841.2,73.2 844.7,72.1 846.2,71C847.8,69.9 848.9,69.8 850,68.5C851.1,67.2 852.5,65.3 852.5,63.5C852.5,61.7 849.5,59.2 850,58.5C850.5,57.8 853.2,58.4 855,59.8C856.8,61.1 858.2,64 860,66C861.8,68 863.6,69.9 865,71C866.4,72.1 867.5,71.6 868,72.2C868.5,72.9 869,74.1 868,74.8C867,75.4 863.9,75.1 862.5,76C861.1,76.9 861.8,79 860,79.8C858.2,80.5 855,80.4 852.5,80.4C850,80.4 848.3,80.8 846.2,79.8C844.2,78.7 841.2,76.3 841.2,74.8Z"/><path id="s2_20" d="M804.9,85.4C804.9,85 805.5,84.4 805.9,84.4C806.2,84.4 806.9,85 806.9,85.4C806.9,85.7 806.2,86.4 805.9,86.4C805.5,86.4 804.9,85.7 804.9,85.4Z"/><path id="s2_21" d="M824.9,88.1C824.9,87.9 825.5,87.4 825.9,87.4C826.2,87.4 826.9,87.9 826.9,88.1C826.9,88.4 826.2,88.9 825.9,88.9C825.5,88.9 824.9,88.4 824.9,88.1Z"/><path id="s2_22" d="M830.5,86.2C830.5,85.4 831.9,84 832.8,84C833.6,84 835,85.4 835,86.2C835,87.1 833.6,88.5 832.8,88.5C831.9,88.5 830.5,87.1 830.5,86.2Z"/><path id="s2_23" d="M835.6,82.9C835.6,82.4 836.4,81.6 836.9,81.6C837.3,81.6 838.1,82.4 838.1,82.9C838.1,83.3 837.3,84.1 836.9,84.1C836.4,84.1 835.6,83.3 835.6,82.9Z"/><path id="s2_24" d="M857.4,86.8C857.4,86.4 858,85.9 858.4,85.9C858.7,85.9 859.4,86.4 859.4,86.8C859.4,87.1 858.7,87.6 858.4,87.6C858,87.6 857.4,87.1 857.4,86.8Z"/><path id="s2_25" d="M683.5,17.2C689.6,15.6 710.7,16.5 717.5,17.2C724.3,18 719.5,19.6 721.2,21.5C723,23.4 725.5,25.3 727.5,27.8C729.5,30.2 732.5,33.3 732.5,35.2C732.5,37.2 729.5,37.6 727.5,38.4C725.5,39.2 723,39.2 721.2,39.6C719.5,40.1 718.9,40.7 717.5,40.9C716.1,41.1 714.6,41.7 713.8,40.9C712.9,40 713.4,37.5 712.5,36.2C711.6,35 710.5,34.8 708.8,33.8C707,32.7 704.8,31.7 702.5,30.6C700.2,29.5 698.5,28.4 696.2,27.5C694,26.6 692.3,26.1 690,25.9C687.7,25.7 684.7,28.1 683.5,26.5C682.3,24.9 677.4,18.9 683.5,17.2Z"/><path id="s2_26" d="M687.5,20.2C689.3,19.4 694.9,19.2 698.8,19.6C702.6,20.1 705.4,21.3 708.8,22.8C712.1,24.2 714.4,25.7 717.5,27.8C720.6,29.8 725.1,32.2 726.2,34C727.4,35.8 725.8,37.5 723.8,37.8C721.7,38 717.9,36.4 715,35.2C712.1,34.1 710.4,33.1 707.5,31.5C704.6,29.9 702.1,27.7 698.8,26.5C695.4,25.3 690.8,25.7 688.8,24.6C686.7,23.5 685.7,21.1 687.5,20.2Z"/><path id="s2_27" d="M735,25.2C735.9,23.9 738.8,23.3 740,24C741.2,24.7 742.1,27.4 741.9,29C741.7,30.6 740,32.3 738.8,32.8C737.5,33.2 735.7,32.9 735,31.5C734.3,30.1 734.1,26.6 735,25.2Z"/><path id="s2_28" d="M683.2,26.5C684.5,22.5 687.7,25.7 690,25.9C692.3,26.1 694,26.6 696.2,27.5C698.5,28.4 700.2,29.5 702.5,30.6C704.8,31.7 707,32.7 708.8,33.8C710.5,34.8 711.6,35 712.5,36.2C713.4,37.5 712.9,40 713.8,40.9C714.6,41.7 716.1,41.1 717.5,40.9C718.9,40.7 719.5,40.1 721.2,39.6C723,39.2 725.5,38.7 727.5,38.4C729.5,38 731.4,37.6 732.5,37.8C733.6,37.9 734.6,38.5 733.8,39C732.9,39.5 729.8,39.7 727.5,40.2C725.2,40.8 722.4,41.1 721.2,42.1C720.1,43.1 720.4,44.9 721.2,45.9C722.1,46.9 726.9,47.1 726.2,47.8C725.6,48.4 721.3,49.3 717.5,49.6C713.7,49.9 709.5,49.4 705,49.2C700.5,49.1 696.4,49 692.5,48.8C688.6,48.5 684.9,52 683.2,48C681.6,44 682,30.5 683.2,26.5Z"/><path id="s2_29" d="M721.2,42.1C722.4,41.1 725.2,40.8 727.5,40.2C729.8,39.7 731.7,38.9 733.8,39C735.8,39.1 736.7,40 738.8,40.9C740.8,41.8 743,43.7 745,44C747,44.3 748.2,43.2 750,42.8C751.8,42.3 753.2,41 755,41.5C756.8,42 758.5,44.8 760,45.2C761.5,45.7 762,44.8 763.1,44C764.2,43.2 765.1,42 766.2,40.9C767.4,39.8 768.3,38.9 769.4,37.8C770.5,36.6 771.4,35.3 772.5,34.6C773.6,33.9 774.8,33.5 775.6,34C776.4,34.5 776.8,35.5 776.9,37.1C777,38.7 776.6,41.1 776.2,42.8C775.9,44.4 775.8,45.5 775,46.5C774.2,47.5 772.8,47.3 771.9,48.4C771,49.5 770.8,51.3 770,52.8C769.2,54.2 768.6,55 767.5,56.5C766.4,58 765,59.5 763.8,60.9C762.5,62.2 761.5,63.8 760.6,64C759.7,64.2 759.3,63.2 758.8,62.1C758.2,61 758.4,59.2 757.5,57.8C756.6,56.3 755.5,55.2 753.8,54C752,52.8 750,51.7 747.5,50.9C745,50.1 742.7,50.1 740,49.6C737.3,49.2 735,48.7 732.5,48.4C730,48 728.3,48.2 726.2,47.8C724.2,47.3 722.1,46.9 721.2,45.9C720.4,44.9 720.1,43.1 721.2,42.1Z"/><path id="s2_30" d="M683.2,30.2C684.5,27.1 687.7,29.4 690,29.6C692.3,29.8 694.7,30.3 696.2,31.5C697.8,32.7 698.5,34.5 698.8,36.5C699,38.5 698.6,41 697.5,42.8C696.4,44.5 695.1,45.7 692.5,46.5C689.9,47.3 684.9,50 683.2,47.1C681.6,44.2 682,33.4 683.2,30.2Z"/><path id="s2_31" d="M740.2,32.8C741.1,31.9 741.4,31.8 742.5,32.2C743.6,32.7 744.6,34.1 746.2,35C747.9,35.9 749.4,36.5 751.9,37C754.4,37.5 757.4,37.9 760,38C762.6,38.1 764.9,37.5 766.2,37.8C767.6,38 768.1,38.5 767.5,39.6C766.9,40.7 764.5,43 763.1,44C761.8,45 761.5,45.7 760,45.2C758.5,44.8 756.8,42 755,41.5C753.2,41 751.8,42.3 750,42.8C748.2,43.2 747,44.3 745,44C743,43.7 740.1,42.1 738.8,40.9C737.4,39.6 737.5,38.6 737.8,37.1C738,35.7 739.4,33.6 740.2,32.8Z"/><path id="s2_32" d="M698.8,39.6C699.6,38.6 702.6,38.3 705,38.4C707.4,38.5 710.8,39.2 711.9,40.2C713,41.3 712.5,43.1 711.2,44C710,44.9 707,45.2 705,45.2C703,45.2 701.1,45 700,44C698.9,43 697.9,40.6 698.8,39.6Z"/><path id="s2_33" d="M716.2,27.8C716.5,27.3 717.9,27 718.8,27.1C719.6,27.2 721,27.9 721.2,28.4C721.5,28.9 721,29.8 720.2,30C719.5,30.2 718,30.2 717.2,29.8C716.5,29.3 716,28.2 716.2,27.8Z"/><path id="s2_34" d="M715,37.1C715.5,36.6 717,36.6 717.5,37.1C718,37.7 718,39.7 717.5,40.2C717,40.8 715.5,40.8 715,40.2C714.5,39.7 714.5,37.7 715,37.1Z"/><path id="s2_35" d="M770.2,48C770.7,47.1 772.5,46.9 773.1,47.5C773.7,48.1 774,50.6 773.5,51.5C773,52.4 771.2,53.4 770.6,52.8C770,52.1 769.8,48.9 770.2,48Z"/><path id="s2_36" d="M791,38.4C791.5,37.4 793.4,36.6 794.8,36.5C796.1,36.4 797.5,36.7 798.5,37.8C799.5,38.8 799.3,41.7 800.4,42.1C801.5,42.6 803.3,40 804.8,40.2C806.2,40.5 806.9,42.8 808.5,43.4C810.1,43.9 811.9,42.6 813.5,43.4C815.1,44.2 815.9,46.5 817.2,47.8C818.6,49 819.6,49.6 821,50.2C822.4,50.9 824,50.4 824.8,51.5C825.5,52.6 825.8,55.3 825.4,56.5C824.9,57.7 823.7,58.3 822.2,58.4C820.8,58.5 819,57.5 817.2,57.1C815.5,56.8 814,56.4 812.2,56.5C810.5,56.6 808.8,57.2 807.2,57.8C805.7,58.3 804.7,59.1 803.5,59.6C802.3,60.2 801.3,61.2 800.4,60.9C799.5,60.5 799.4,58.8 798.5,57.8C797.6,56.7 796.2,56.6 795.4,55.2C794.6,53.9 794.2,52 794.1,50.2C794,48.5 795.1,46.7 794.8,45.2C794.4,43.8 792.9,43.4 792.2,42.1C791.6,40.9 790.5,39.4 791,38.4Z"/><path id="s2_37" d="M794.8,47.8C795,46.1 796.8,45.1 797.9,44.6C799,44.2 800.1,45.5 801,45.2C801.9,45 800.6,43.6 802.9,43.4C805.1,43.2 810.9,43 813.5,44C816.1,45 815.3,47.4 817.2,49C819.2,50.6 823,51.4 824.1,52.8C825.2,54.1 824.7,55.9 823.5,56.5C822.3,57.1 819.5,56.1 817.2,55.9C815,55.7 813,55.1 811,55.2C809,55.4 807.8,55.8 806,56.5C804.2,57.2 802.2,59 801,59C799.8,59 799.9,57.4 799.1,56.5C798.3,55.6 797.4,55.6 796.6,54C795.8,52.4 794.5,49.4 794.8,47.8Z"/><path id="s2_38" d="M803.5,46.5C804,45.5 805.6,45 807.2,44.6C808.9,44.3 811.3,43.8 812.9,44.6C814.5,45.4 815,47.5 816,49C817,50.5 819,51.7 818.5,52.8C818,53.8 815.3,54.6 813.5,54.6C811.7,54.6 810.1,53.5 808.5,52.8C806.9,52 805.6,51.4 804.8,50.2C803.9,49.1 803,47.5 803.5,46.5Z"/><path id="s2_39" d="M807.2,46.8C808,45.8 811.9,45.6 813.5,46.2C815.1,46.9 816,49 816,50.2C816,51.5 814.7,52.8 813.5,53C812.3,53.2 810.2,52.6 809.1,51.5C808,50.4 806.5,47.7 807.2,46.8Z"/><path id="s2_40" d="M817.2,39C817.6,38.4 819.7,38.9 820.4,39.6C821.1,40.3 821.6,42.4 821.2,43C820.9,43.6 819,43.7 818.2,43C817.5,42.3 816.9,39.6 817.2,39Z"/><path id="s2_41" d="M827.2,48.4C827.8,48 829.8,48 830.4,48.4C830.9,48.7 830.9,49.9 830.4,50.2C829.8,50.6 827.8,50.6 827.2,50.2C826.7,49.9 826.7,48.7 827.2,48.4Z"/><path id="s2_42" d="M778.5,38.4C779,37.9 781.3,38.3 782,39C782.7,39.7 782.8,41.6 782.2,42.1C781.7,42.6 779.8,42.4 779.1,41.8C778.4,41.1 778,38.9 778.5,38.4Z"/><path id="s2_43" d="M798.5,67.8C799,67.5 800.5,67.5 801,67.8C801.5,68 801.5,69 801,69.2C800.5,69.5 799,69.5 798.5,69.2C798,69 798,68 798.5,67.8Z"/><path id="s2_44" d="M859.1,45.2C861.4,44.1 865.5,44.6 868.5,44.6C871.5,44.6 873.3,45 876,45.2C878.7,45.5 882,45.3 883.5,45.9C885,46.4 885,47.6 884.1,48.4C883.2,49.2 880,49 878.5,50.2C877,51.5 877.4,54 876,55.2C874.6,56.5 873.2,57.1 871,57.1C868.8,57.1 866,55.9 863.5,55.2C861,54.6 858.6,54.2 857.2,53.4C855.9,52.6 855.7,52.3 856,50.9C856.3,49.4 856.9,46.4 859.1,45.2Z"/><path id="s2_45" d="M857.2,51.5C857.2,50.7 859.4,50.6 861,49.6C862.6,48.6 864.5,46.3 866,45.9C867.5,45.4 867.5,46.8 869.1,47.1C870.7,47.5 873.5,47 874.8,47.8C876,48.5 876.3,50 876,51.5C875.7,53 874.5,55.1 872.9,55.9C871.3,56.7 869.4,56.2 867.2,55.9C865.1,55.5 862.8,54.8 861,54C859.2,53.2 857.2,52.3 857.2,51.5Z"/><path id="s2_46" d="M862.2,51.5C862.6,50.6 864.8,49.7 866,49.6C867.2,49.5 868.7,50.1 869.1,50.9C869.6,51.7 869.4,53.3 868.5,54C867.6,54.7 865.2,55.1 864.1,54.6C863,54.2 861.9,52.4 862.2,51.5Z"/><path id="s2_47" d="M876.6,45.9C877.2,45.4 879.2,45.4 879.8,45.9C880.3,46.3 880.3,47.9 879.8,48.4C879.2,48.8 877.2,48.8 876.6,48.4C876.1,47.9 876.1,46.3 876.6,45.9Z"/><path id="s2_48" d="M935.1,47.8C935.6,46.7 937.8,44.8 939.5,43.4C941.2,41.9 942.7,40.7 944.5,39.6C946.3,38.5 947.5,38 949.5,37.1C951.5,36.2 954.6,32.8 955.8,34.6C956.9,36.4 956.9,44.8 955.8,47.1C954.6,49.5 952,47.5 949.5,47.8C947,48 944.2,48.2 942,48.4C939.8,48.6 938.2,49.1 937,49C935.8,48.9 934.7,48.8 935.1,47.8Z"/><path id="s2_49" d="M942,44.6C942.5,43.5 945.2,41.5 947,40.2C948.8,39 950.4,38.4 952,37.8C953.6,37.1 955.1,35 955.8,36.5C956.4,38 956.9,44.2 955.8,45.9C954.6,47.6 951.5,45.8 949.5,45.9C947.5,46 945.9,46.7 944.5,46.5C943.1,46.3 941.5,45.7 942,44.6Z"/><path id="s2_50" d="M949.5,39C950.4,38 954.6,36.7 955.8,37.5C956.9,38.3 956.6,42.4 955.8,43.4C954.9,44.4 951.9,43.8 950.8,43C949.6,42.2 948.6,40 949.5,39Z"/><path id="s2_51" d="M894.5,48.4C896.9,47.8 905.8,47.5 908.2,48C910.7,48.5 910.6,50.6 908.2,51.2C905.9,51.9 897.6,52 895.1,51.5C892.6,51 892.1,49 894.5,48.4Z"/><path id="s2_52" d="M912,50.2C912.6,49.9 914.6,49.9 915.1,50.2C915.7,50.6 915.7,51.8 915.1,52.1C914.6,52.5 912.6,52.5 912,52.1C911.4,51.8 911.4,50.6 912,50.2Z"/><path id="s2_53" d="M920.8,47.5C922.4,46.8 929,47.1 930.8,47.8C932.5,48.4 932.2,50.6 930.5,51.2C928.8,51.9 923.1,52.2 921.4,51.5C919.6,50.8 919.1,48.2 920.8,47.5Z"/><path id="s2_54" d="M933.2,47.5C934.7,47.3 940.5,48.5 942,49C943.5,49.5 942.8,50.3 941.4,50.5C939.9,50.7 935.3,50.5 933.9,50C932.4,49.5 931.8,47.7 933.2,47.5Z"/><path id="s2_55" d="M839.1,34.6C840.1,33.8 844.4,34.2 845.4,35.2C846.4,36.3 845.8,39.5 844.8,40.2C843.7,41 840.8,40.6 839.8,39.6C838.7,38.6 838.1,35.4 839.1,34.6Z"/><path id="s2_56" d="M841.6,44C842.1,43.7 843.7,43.7 844.1,44C844.6,44.3 844.6,45.5 844.1,45.9C843.7,46.2 842.1,46.2 841.6,45.9C841.2,45.5 841.2,44.3 841.6,44Z"/><path id="s2_57" d="M894.8,48.4C895.9,48.1 899.9,48.3 901,48.8C902.1,49.2 902.1,50.6 901,50.9C899.9,51.2 895.9,51 894.8,50.5C893.6,50 893.6,48.7 894.8,48.4Z"/><path id="s2_58" d="M849.9,162.5C850.2,161.9 852,161.9 853,161.2C854,160.6 854.1,159.3 855.5,158.8C856.9,158.2 859.3,157.6 860.5,158.1C861.7,158.7 861.8,160.9 862.4,161.9C862.9,162.9 863.8,163 863.6,163.8C863.4,164.5 862.2,165.9 861.1,166.2C860,166.6 858.6,166 857.4,165.6C856.1,165.3 855.4,164.6 854.2,164.4C853.1,164.2 851.9,164.7 851.1,164.4C850.3,164 849.5,163.1 849.9,162.5Z"/><path id="s2_59" d="M864.2,159C864.9,158.6 867.3,158.5 868,158.8C868.7,159 868.6,160 868,160.4C867.4,160.7 865.2,161 864.5,160.8C863.8,160.5 863.6,159.4 864.2,159Z"/><path id="s2_60" d="M842.4,196.2C842.4,195.3 844.7,195.9 845.5,195C846.3,194.1 846,192.2 846.8,191.2C847.5,190.3 848.4,189.8 849.9,190C851.3,190.2 853,191.6 854.9,192.5C856.8,193.4 858.4,194.3 860.5,195C862.6,195.7 864.5,195.3 866.8,196.2C869,197.2 870.8,198.9 873,200C875.2,201.1 877.2,201.6 879.2,202.5C881.3,203.4 882.7,204.1 884.2,205C885.8,205.9 887,206.6 888,207.5C889,208.4 889.5,208.9 889.9,210C890.3,211.1 890.7,212.8 890.1,213.8C889.6,214.7 888,215.6 886.8,215C885.5,214.4 884.6,212 883,210.6C881.4,209.3 880,208.4 878,207.5C876,206.6 874,206.2 871.8,205.6C869.5,205.1 867.8,204.9 865.5,204.4C863.2,203.8 861,203.3 859.2,202.5C857.5,201.7 857,200.8 855.5,200C854,199.2 852.4,198 851.1,198.1C849.9,198.2 849.6,200.3 848.6,200.6C847.6,201 846.6,200.8 845.5,200C844.4,199.2 842.4,197.2 842.4,196.2Z"/><path id="s2_61" d="M854.9,188.5C855.3,187.9 857.2,187.7 858,188.1C858.8,188.5 859.7,190.1 859.2,190.6C858.8,191.2 856.5,191.6 855.8,191.2C855,190.9 854.5,189.1 854.9,188.5Z"/><path id="s2_62" d="M853,195C854,194.8 857.8,196.2 860.5,196.9C863.2,197.6 865.3,197.7 868,198.8C870.7,199.8 873.2,201.4 875.5,202.5C877.8,203.6 880.5,204.6 880.5,205C880.5,205.4 877.8,205.3 875.5,205C873.2,204.7 870.7,203.8 868,203.1C865.3,202.4 862.9,202.2 860.5,201.2C858.1,200.3 856.2,199.2 854.9,198.1C853.5,197 852,195.2 853,195Z"/><path id="s2_63" d="M857.4,197.2C857.9,196.9 860.1,197.1 861.8,197.5C863.4,197.9 865.1,199 866.8,199.8C868.4,200.5 870.2,201.2 871.1,201.9C872,202.6 872.3,203.5 871.8,203.8C871.2,204 869.6,203.5 868,203.1C866.4,202.7 864.7,202.2 863,201.5C861.3,200.8 859.6,200.1 858.6,199.4C857.6,198.6 856.8,197.6 857.4,197.2Z"/><path id="s2_64" d="M860.2,198.5C861,198.5 863.9,199.6 865.5,200.2C867.1,200.9 869.2,201.8 869.2,202.1C869.2,202.4 867,202.3 865.5,201.9C864,201.5 862.1,200.6 861.1,200C860.2,199.4 859.5,198.5 860.2,198.5Z"/><path id="s2_65" d="M887.4,213.2C887,212.4 888.4,212.3 889.2,212.9C890.1,213.5 892,215.8 892.4,216.6C892.7,217.5 892,218.1 891.1,217.5C890.2,216.9 887.7,214.1 887.4,213.2Z"/><path id="s2_66" d="M892.4,223.2C892.8,223 894,223.6 895.5,224.1C897,224.6 898.9,225.5 900.5,226C902.1,226.5 903,226.4 904.2,227C905.5,227.6 907.2,228.7 907.4,229.5C907.6,230.3 906.5,231.6 905.5,231.6C904.5,231.7 903.3,230.5 901.8,229.8C900.2,229 898.3,228 896.8,227.2C895.2,226.5 893.8,226.1 893,225.4C892.2,224.7 891.9,223.5 892.4,223.2Z"/><path id="s2_67" d="M902.8,102.2C902.9,101 904.3,98.7 905.2,97.8C906.1,96.9 907,96.7 907.6,97.3C908.2,97.9 908,100.1 908.6,100.9C909.1,101.8 911,101.5 910.8,102.2C910.5,102.8 908.3,104.2 907.1,104.6C905.9,104.9 905,104.5 904.2,104.1C903.4,103.7 902.6,103.3 902.8,102.2Z"/><path id="s2_68" d="M764.4,236C764.9,234.5 765.6,234.6 766.9,234.1C768.1,233.7 769.8,232.9 771.2,233.5C772.7,234.1 774.1,235.7 775,237.2C775.9,238.8 775.4,240.4 776.2,242.2C777.1,244.1 778.4,245.4 780,247.2C781.6,249.1 783,250.7 785,252.2C787,253.8 789.5,254.9 791.2,256C793,257.1 794.8,257.6 795,258.5C795.2,259.4 793.9,260.4 792.5,261C791.1,261.6 789.5,262 787.5,261.6C785.5,261.3 783.5,259.9 781.2,259.1C779,258.3 777.5,257.7 775,257.2C772.5,256.8 770,257.1 767.5,256.6C765,256.2 762.3,256 761.2,254.8C760.2,253.5 761.9,251.3 761.9,249.8C761.9,248.2 760.9,247.3 761.2,246C761.6,244.7 763.2,244.1 763.8,242.2C764.3,240.4 763.8,237.5 764.4,236Z"/><path id="s2_69" d="M762.5,248.5C763,246.6 765.4,243.3 766.2,243.5C767.1,243.7 766.4,247.7 767.5,249.8C768.6,251.8 770.2,253.3 772.5,254.8C774.8,256.2 780.5,257.7 780,257.9C779.5,258.1 772.9,256.7 770,256C767.1,255.3 765.1,255.5 763.8,254.1C762.4,252.8 762,250.4 762.5,248.5Z"/><path id="s2_70" d="M766.9,244.1C767.1,243 768.2,242.9 768.8,243.5C769.3,244.1 769.1,245.7 770,247.2C770.9,248.8 772,250.7 773.8,252.2C775.5,253.8 777.5,254.8 780,256C782.5,257.2 785.8,258.3 787.5,259.1C789.2,259.9 789.8,260.2 789.4,260.4C788.9,260.6 787.1,260.9 785,260.4C782.9,259.8 780,258.4 777.5,257.2C775,256.1 773,255.5 771.2,254.1C769.5,252.8 768.3,251.6 767.5,249.8C766.7,247.9 766.7,245.2 766.9,244.1Z"/><path id="s2_71" d="M684.3,220.8C684.6,220.5 685.7,220.5 686,220.8C686.3,221.1 686.3,222.2 686,222.5C685.7,222.8 684.6,222.8 684.3,222.5C684,222.2 684,221.1 684.3,220.8Z"/></defs>
<g filter="url(#h)"><g fill="#55eb55" stroke="#55eb55" stroke-linejoin="round"><use href="#s2_0" fill="#32cd3c" stroke-width="1.7"/><use href="#s2_12" fill="#32cd3c" stroke-width="1.7"/><use href="#s2_17" fill="#32cd3c" stroke-width="1.7"/><use href="#s2_19" fill="#32cd3c" stroke-width="1.7"/><use href="#s2_20" stroke="none"/><use href="#s2_21" stroke="none"/><use href="#s2_22" stroke="none"/><use href="#s2_23" stroke="none"/><use href="#s2_24" stroke="none"/><use href="#s2_25" stroke-width="1.6"/><use href="#s2_28" stroke-width="9.6"/><use href="#s2_29" stroke-width="11"/><use href="#s2_31" stroke-width="9"/><use href="#s2_58" fill="#32cd3c" stroke-width="1.7"/><use href="#s2_59" stroke="none"/><use href="#s2_61" stroke="none"/><use href="#s2_65" stroke="none"/><use href="#s2_66" fill="#32cd3c" stroke-width="1.7"/><use href="#s2_67" fill="#32cd3c" stroke-width="1.7"/><use href="#s2_71" stroke="none"/></g>
<g fill="#32cd3c" stroke="#32cd3c" stroke-linejoin="round"><use href="#s2_1" stroke="none"/><use href="#s2_18" stroke="none"/><use href="#s2_25" stroke-width="0.8"/><use href="#s2_27" stroke="none"/><use href="#s2_28" stroke-width="8.4"/><use href="#s2_29" stroke-width="9.9"/><use href="#s2_31" stroke-width="8"/></g>
</g>
<g fill="#55eb55" stroke="#55eb55" stroke-linejoin="round"><use href="#s2_60" fill="#32cd3c" stroke-width="1.7"/><use href="#s2_68" fill="#32cd3c" stroke-width="1.7"/></g>
<g fill="#14aa1e" stroke="#14aa1e" stroke-linejoin="round"><use href="#s2_2" stroke="none"/><use href="#s2_13" stroke="none"/><use href="#s2_14" stroke="none"/><use href="#s2_25" stroke="none"/><use href="#s2_28" stroke-width="7.2"/><use href="#s2_29" stroke-width="8.8"/><use href="#s2_31" stroke-width="7"/><use href="#s2_62" stroke="none"/><use href="#s2_69" stroke="none"/></g>
<g fill="#008700" stroke="#008700" stroke-linejoin="round"><use href="#s2_3" stroke="none"/><use href="#s2_4" stroke="none"/><use href="#s2_26" stroke="none"/><use href="#s2_28" stroke-width="6"/><use href="#s2_29" stroke-width="7.7"/><use href="#s2_31" stroke-width="6"/></g>
<g fill="#beebfa" stroke="#beebfa" stroke-linejoin="round"><use href="#s2_28" stroke-width="4.8"/><use href="#s2_29" stroke-width="6.6"/><use href="#s2_31" stroke-width="5"/><use href="#s2_36" stroke-width="0.6"/><use href="#s2_40" stroke-width="0.5"/><use href="#s2_41" stroke-width="0.5"/><use href="#s2_42" stroke-width="0.5"/><use href="#s2_43" stroke-width="0.5"/><use href="#s2_44" stroke="none"/><use href="#s2_48" stroke-width="0.7"/><use href="#s2_51" stroke="none"/><use href="#s2_52" stroke="none"/><use href="#s2_53" stroke="none"/><use href="#s2_54" stroke="none"/><use href="#s2_55" stroke="none"/><use href="#s2_56" stroke="none"/><use href="#s2_57" stroke="none"/><use href="#s2_63" stroke-width="1.2"/><use href="#s2_70" stroke-width="1.8"/></g>
<g fill="#ffa500" stroke="#ffa500" stroke-linejoin="round"><use href="#s2_28" stroke-width="3.6"/><use href="#s2_29" stroke-width="5.5"/><use href="#s2_31" stroke-width="4"/><use href="#s2_36" stroke="none"/><use href="#s2_40" stroke="none"/><use href="#s2_41" stroke="none"/><use href="#s2_42" stroke="none"/><use href="#s2_43" stroke="none"/><use href="#s2_45" stroke="none"/><use href="#s2_47" stroke="none"/><use href="#s2_48" stroke="none"/><use href="#s2_63" stroke-width="0.6"/><use href="#s2_70" stroke-width="1.2"/></g>
<g fill="#ff7300" stroke="#ff7300" stroke-linejoin="round"><use href="#s2_28" stroke-width="2.4"/><use href="#s2_29" stroke-width="4.4"/><use href="#s2_31" stroke-width="3"/><use href="#s2_37" stroke-width="0.6"/><use href="#s2_46" stroke-width="1.6"/><use href="#s2_49" stroke-width="0.8"/><use href="#s2_63" stroke="none"/><use href="#s2_70" stroke-width="0.6"/></g>
<g fill="#ff3200" stroke="#ff3200" stroke-linejoin="round"><use href="#s2_28" stroke-width="1.2"/><use href="#s2_29" stroke-width="3.3"/><use href="#s2_31" stroke-width="2"/><use href="#s2_37" stroke="none"/><use href="#s2_46" stroke-width="0.8"/><use href="#s2_49" stroke="none"/><use href="#s2_64" stroke="none"/><use href="#s2_70" stroke="none"/></g>
<g fill="#d7190a" stroke="#d7190a" stroke-linejoin="round"><use href="#s2_28" stroke="none"/><use href="#s2_29" stroke-width="2.2"/><use href="#s2_31" stroke-width="1"/><use href="#s2_38" stroke="none"/><use href="#s2_46" stroke="none"/><use href="#s2_50" stroke-width="0.6"/></g>
<g fill="#aa0000" stroke="#aa0000" stroke-linejoin="round"><use href="#s2_29" stroke-width="1.1"/><use href="#s2_30" stroke="none"/><use href="#s2_31" stroke="none"/><use href="#s2_39" stroke-width="0.6"/><use href="#s2_50" stroke="none"/></g>
<g fill="#6e0000" stroke="#6e0000" stroke-linejoin="round"><use href="#s2_29" stroke="none"/><use href="#s2_39" stroke="none"/></g>
<use href="#s2_5" fill="#ffffff"/>
<use href="#s2_6" fill="#ffffff"/>
<use href="#s2_7" fill="#ffffff"/>
<use href="#s2_8" fill="#ffffff"/>
<use href="#s2_9" fill="#ffffff"/>
<use href="#s2_10" fill="#55eb55"/>
<use href="#s2_11" fill="#55eb55"/>
<use href="#s2_15" fill="#ffffff"/>
<use href="#s2_16" fill="#ffffff"/>
<use href="#s2_32" fill="#ff3200" stroke="#ff3200" stroke-width="1.2" stroke-linejoin="round"/><use href="#s2_32" fill="#ff7300"/>
<use href="#s2_33" fill="#beebfa" stroke="#beebfa" stroke-width="1.6" stroke-linejoin="round"/><use href="#s2_33" fill="#ffa500"/>
<use href="#s2_34" fill="#beebfa"/>
<use href="#s2_35" fill="#ff7300"/>
</g>
<path class="g" d="M717.7,17.6V266.8 M751.6,17.6V266.8 M785.4,17.6V266.8 M819.2,17.6V266.8 M853,17.6V266.8 M886.9,17.6V266.8 M920.7,17.6V266.8 M954.5,17.6V266.8 M700.9,38.4H954.5 M700.9,72.2H954.5 M700.9,106H954.5 M700.9,139.8H954.5 M700.9,173.5H954.5 M700.9,207.3H954.5 M700.9,241.1H954.5"/>
<g clip-path="url(#clip2)"><use href="#coast" transform="translate(683.9,72.2) scale(3.383,3.378)"/></g>
<text class="ax" x="692.2" y="40.4">10N</text><text class="ax" x="692.2" y="74.2">0</text><text class="ax" x="692.2" y="108">10S</text><text class="ax" x="692.2" y="141.8">20S</text><text class="ax" x="692.2" y="175.5">30S</text><text class="ax" x="692.2" y="209.3">40S</text><text class="ax" x="692.2" y="243.1">50S</text><text class="ax" x="716" y="272">90W</text><text class="ax" x="749.9" y="272">80W</text><text class="ax" x="783.7" y="272">70W</text><text class="ax" x="817.5" y="272">60W</text><text class="ax" x="851.3" y="272">50W</text><text class="ax" x="885.2" y="272">40W</text><text class="ax" x="919" y="272">30W</text>
<text class="cap" x="642.1" y="279.9" textLength="356.5" lengthAdjust="spacingAndGlyphs" xml:space="preserve">NOAA GEFS 20210809 00zCYC FCST Probability of Week1 Precip &gt; 75mm  VALID 20210816/0000V168</text>
<rect x="958.7" y="93.9" width="5.6" height="13.8" fill="#6e0000"/><rect x="958.7" y="107.5" width="5.6" height="13.8" fill="#aa0000"/><rect x="958.7" y="121.2" width="5.6" height="13.8" fill="#d7190a"/><rect x="958.7" y="134.8" width="5.6" height="13.8" fill="#ff3200"/><rect x="958.7" y="148.5" width="5.6" height="13.8" fill="#ff7300"/><rect x="958.7" y="162.1" width="5.6" height="13.8" fill="#ffa500"/><rect x="958.7" y="175.7" width="5.6" height="13.8" fill="#beebfa"/><rect x="958.7" y="189.4" width="5.6" height="13.8" fill="#008700"/><rect x="958.7" y="203" width="5.6" height="13.8" fill="#14aa1e"/><rect x="958.7" y="216.7" width="5.6" height="13.8" fill="#32cd3c"/><rect x="958.7" y="230.3" width="5.6" height="13.8" fill="#55eb55"/><rect x="958.7" y="243.9" width="5.6" height="13.8" fill="#ffffff"/><rect x="958.7" y="93.9" width="5.6" height="163.7" fill="none" stroke="#777" stroke-width="0.5"/><path d="M958.7,107.5h5.6" stroke="rgba(0,0,0,0.35)" stroke-width="0.5"/><text class="cb" x="964.9" y="109.4">95</text><path d="M958.7,121.2h5.6" stroke="rgba(0,0,0,0.35)" stroke-width="0.5"/><text class="cb" x="964.9" y="123.1">90</text><path d="M958.7,134.8h5.6" stroke="rgba(0,0,0,0.35)" stroke-width="0.5"/><text class="cb" x="964.9" y="136.7">80</text><path d="M958.7,148.5h5.6" stroke="rgba(0,0,0,0.35)" stroke-width="0.5"/><text class="cb" x="964.9" y="150.4">70</text><path d="M958.7,162.1h5.6" stroke="rgba(0,0,0,0.35)" stroke-width="0.5"/><text class="cb" x="964.9" y="164">60</text><path d="M958.7,175.7h5.6" stroke="rgba(0,0,0,0.35)" stroke-width="0.5"/><text class="cb" x="964.9" y="177.6">50</text><path d="M958.7,189.4h5.6" stroke="rgba(0,0,0,0.35)" stroke-width="0.5"/><text class="cb" x="964.9" y="191.3">40</text><path d="M958.7,203h5.6" stroke="rgba(0,0,0,0.35)" stroke-width="0.5"/><text class="cb" x="964.9" y="204.9">30</text><path d="M958.7,216.7h5.6" stroke="rgba(0,0,0,0.35)" stroke-width="0.5"/><text class="cb" x="964.9" y="218.6">20</text><path d="M958.7,230.3h5.6" stroke="rgba(0,0,0,0.35)" stroke-width="0.5"/><text class="cb" x="964.9" y="232.2">10</text><path d="M958.7,243.9h5.6" stroke="rgba(0,0,0,0.35)" stroke-width="0.5"/><text class="cb" x="964.9" y="245.8">5</text>
<text class="t" x="818.4" y="106.4" textLength="54.6" lengthAdjust="spacing">75 mm</text>
</g>
<g id="panel3">
<clipPath id="clip3"><rect x="387.1" y="289.8" width="270.3" height="256"/></clipPath>
<g clip-path="url(#clip3)" filter="url(#b)">
<defs><path id="s3_0" d="M387.2,290.1C388.4,283.9 392.6,289.3 393.4,290.1C394.1,291 390.9,293.4 391.5,294.8C392.1,296.1 394.2,297 396.5,297.9C398.8,298.8 401.5,299.2 404,299.8C406.5,300.3 408,301.2 410.2,301C412.5,300.8 414,298.7 416.5,298.5C419,298.3 421.3,298.9 424,299.8C426.7,300.6 429.2,302.4 431.5,303.5C433.8,304.6 434.5,305.4 436.5,306C438.5,306.6 440.5,306.7 442.8,306.6C445,306.5 446.5,305.7 449,305.4C451.5,305 453.8,304.5 456.5,304.8C459.2,305 461.5,306.8 464,306.6C466.5,306.4 468.9,303.6 470.2,303.5C471.6,303.4 470.8,305.3 471.5,306C472.2,306.7 472.2,307 474,307.2C475.8,307.5 479.1,307.2 481.5,307.2C483.9,307.2 485.9,306.6 487.1,307.2C488.4,307.9 488.6,309.8 488.4,311C488.2,312.2 487,313.8 485.9,314.1C484.8,314.5 483.1,311.4 482.1,312.9C481.1,314.3 481.7,319.7 480.2,322.2C478.8,324.8 476,325.7 474,327.2C472,328.8 470.6,329.4 469,331C467.4,332.6 466.6,334.6 465.2,336C463.9,337.4 462.6,338.6 461.5,338.5C460.4,338.4 460.4,336.6 459,335.4C457.6,334.1 456.2,332.7 454,331.6C451.8,330.5 449.6,329.9 446.5,329.1C443.4,328.3 439.9,327.7 436.5,327.2C433.1,326.8 430.4,327.2 427.8,326.6C425.1,326.1 424.9,324.5 421.5,324.1C418.1,323.8 413.5,324.5 409,324.8C404.5,325 400.4,325.4 396.5,325.4C392.6,325.4 388.9,331.1 387.2,324.8C385.6,318.4 386.1,296.4 387.2,290.1Z"/><path id="s3_1" d="M387.2,296C388.5,291.3 391,296.4 394,297.2C397,298.1 399.9,300.4 404,301C408.1,301.6 412.7,300.3 416.5,300.4C420.3,300.5 422.1,300.6 425.2,301.6C428.4,302.6 430.9,304.9 434,306C437.1,307.1 439.1,307.8 442.8,307.9C446.4,308 450.2,306.5 454,306.6C457.8,306.7 460.9,307.7 464,308.5C467.1,309.3 471.5,309.2 471.5,311C471.5,312.8 465.4,314 464,318.5C462.6,323 464.9,333.3 464,336C463.1,338.7 460.8,334.6 459,333.5C457.2,332.4 456.2,330.9 454,329.8C451.8,328.6 449.6,328 446.5,327.2C443.4,326.5 439.9,326.2 436.5,325.8C433.1,325.3 430.4,325.3 427.8,324.8C425.1,324.2 424.9,323.1 421.5,322.9C418.1,322.6 413.5,323.1 409,323.2C404.5,323.4 400.4,323.7 396.5,323.8C392.6,323.8 388.9,328.5 387.2,323.5C385.6,318.5 386,300.7 387.2,296Z"/><path id="s3_2" d="M387.2,298.5C387.2,298.5 392.6,298.9 396.5,299.8C400.4,300.6 404.5,302.8 409,303.5C413.5,304.2 417,302.6 421.5,303.5C426,304.4 434,306.5 434,308.5C434,310.5 426,313.9 421.5,314.8C417,315.6 413.5,316.2 409,313.5C404.5,310.8 400.4,302.4 396.5,299.8C392.6,297.1 387.2,298.5 387.2,298.5Z"/><path id="s3_3" d="M391.5,293.8C393.5,293.2 401.6,292.7 404,293.2C406.4,293.8 405.7,295.9 404.6,296.6C403.5,297.3 399.9,297.1 397.8,297C395.6,296.9 393.9,296.8 392.8,296.2C391.6,295.7 389.5,294.3 391.5,293.8Z"/><path id="s3_4" d="M425.2,303.8C426.6,303.3 432.3,303.1 434,303.5C435.7,303.9 436,305.5 434.6,306C433.3,306.5 428.2,306.7 426.5,306.2C424.8,305.8 423.9,304.2 425.2,303.8Z"/><path id="s3_5" d="M401.5,315.4C403.1,314.6 406.3,314.8 409,314.5C411.7,314.2 414,313.8 416.5,313.8C419,313.7 421.6,313.4 423,314C424.4,314.6 424.5,316.1 424.2,317.2C424,318.4 423.3,319.7 421.5,320.5C419.7,321.3 416.7,321.5 414,321.8C411.3,322 408.8,322.1 406.5,322C404.2,321.9 403.1,321.3 401.5,321.2C399.9,321.2 398,322.1 397.8,321.6C397.5,321.2 399.6,319.9 400.2,318.8C400.9,317.6 399.9,316.1 401.5,315.4Z"/><path id="s3_6" d="M387.2,301C388.5,297.4 391.7,301.1 394,301.6C396.3,302.2 398,303.1 400.2,304.1C402.5,305.1 404.6,306.2 406.5,307.2C408.4,308.3 410.9,309.1 410.9,309.8C410.9,310.4 408,310.4 406.5,311C405,311.6 403.3,312 402.8,312.9C402.2,313.8 403.8,314.8 403.4,316C402.9,317.2 401.9,318.7 400.2,319.8C398.6,320.8 396.3,321.3 394,321.6C391.7,322 388.5,325.3 387.2,321.6C386,317.9 386,304.6 387.2,301Z"/><path id="s3_7" d="M387.2,303.5C388.5,300.5 391.9,303.1 394,303.5C396.1,303.9 397.4,305 399,306C400.6,307 402.3,307.8 402.8,309.1C403.2,310.5 402.2,311.9 401.5,313.5C400.8,315.1 400.4,316.8 399,317.9C397.6,319 396.1,319.3 394,319.8C391.9,320.2 388.5,323.3 387.2,320.4C386,317.5 386,306.5 387.2,303.5Z"/><path id="s3_8" d="M387.2,307.2C388.7,305.2 392.9,306.8 395.2,307.2C397.6,307.7 399.6,308.4 400.2,309.8C400.9,311.1 400.1,313.3 399,314.8C397.9,316.2 396.1,317.2 394,317.9C391.9,318.6 388.5,320.4 387.2,318.5C386,316.6 385.8,309.3 387.2,307.2Z"/><path id="s3_9" d="M408.4,317.9C408.7,317.1 411.6,316.4 412.8,316.6C413.9,316.8 415,318.3 414.6,319.1C414.3,319.9 412,321.2 410.9,321C409.8,320.8 408,318.7 408.4,317.9Z"/><path id="s3_10" d="M418.4,317.9C418.7,317.5 419.9,317.5 420.2,317.9C420.6,318.2 420.6,319.4 420.2,319.8C419.9,320.1 418.7,320.1 418.4,319.8C418,319.4 418,318.2 418.4,317.9Z"/><path id="s3_11" d="M422.8,315.4C423.6,314.5 425.7,313.6 427.8,312.9C429.8,312.2 432,312 434,311.6C436,311.3 437.4,310.8 439,311C440.6,311.2 441.4,312.3 442.8,312.9C444.1,313.4 445.4,314.5 446.5,314.1C447.6,313.8 448,311.9 449,311C450,310.1 450.5,309.2 452.1,309.1C453.7,309 456.5,309.7 457.8,310.4C459,311.1 458.3,312 459,312.9C459.7,313.8 460.4,314.3 461.5,315.4C462.6,316.5 463.7,318.8 465.2,319.1C466.8,319.5 468.7,318.1 470.2,317.2C471.8,316.4 472.8,315.8 474,314.1C475.2,312.4 476.1,309.1 477.1,307.9C478.1,306.6 479.1,306.7 479.6,307.2C480.2,307.8 480.4,309.4 480.2,311C480.1,312.6 479.1,314 479,316C478.9,318 480.1,321 479.6,322.2C479.2,323.5 477.5,323.1 476.5,322.9C475.5,322.7 474.9,320.7 474,321C473.1,321.3 472.6,323.3 471.5,324.8C470.4,326.2 468.9,327.4 467.8,329.1C466.6,330.8 466.3,333.2 465.2,334.1C464.2,335 463,334.7 462.1,334.1C461.2,333.6 461.5,332.1 460.2,331C459,329.9 457.3,328.9 455.2,327.9C453.2,326.9 451.5,326.2 449,325.4C446.5,324.6 444.2,324.2 441.5,323.5C438.8,322.8 436.7,322.3 434,321.6C431.3,320.9 428.5,320.4 426.5,319.8C424.5,319.1 423.4,318.7 422.8,317.9C422.1,317.1 421.9,316.3 422.8,315.4Z"/><path id="s3_12" d="M425.2,316C426.7,315.1 431.3,313.8 434,313.2C436.7,312.7 438,312.4 440.2,312.9C442.5,313.3 444.2,315.1 446.5,315.8C448.8,316.4 450.5,316.6 452.8,316.6C455,316.7 457,315.1 459,316C461,316.9 461.8,321.4 464,321.6C466.2,321.8 469.5,318.8 471.5,317.2C473.5,315.7 474,314.5 475.2,312.9C476.5,311.3 477.6,308.8 478.4,308.5C479.2,308.2 479.7,309.4 479.6,311C479.5,312.6 478.8,315.4 477.8,317.2C476.7,319.1 475.4,319.4 474,321C472.6,322.6 471.6,324.4 470.2,326C468.9,327.6 467.9,328.4 466.5,329.8C465.1,331.1 464.1,333.4 462.8,333.2C461.4,333.1 460.6,330.4 459,329.1C457.4,327.9 456.2,327.2 454,326.2C451.8,325.3 449.2,324.5 446.5,323.8C443.8,323 441.7,322.7 439,322C436.3,321.3 433.9,320.7 431.5,320C429.1,319.3 427,319 425.9,318.2C424.8,317.5 423.8,316.9 425.2,316Z"/><path id="s3_13" d="M427.8,316C428.2,315.1 431.8,314.5 434,314.1C436.2,313.8 438,313.7 440.2,314.1C442.5,314.6 444.2,315.9 446.5,316.6C448.8,317.3 450.5,317.4 452.8,317.9C455,318.3 457,318.1 459,319.1C461,320.1 463.1,321.6 464,323.5C464.9,325.4 464.3,328.2 464,329.8C463.7,331.3 463,332.6 462.1,332.2C461.2,331.9 460.5,329.1 459,327.9C457.5,326.6 456.2,326.3 454,325.4C451.8,324.5 449.2,323.7 446.5,322.9C443.8,322.1 441.7,321.7 439,321C436.3,320.3 433.5,320 431.5,319.1C429.5,318.2 427.3,316.9 427.8,316Z"/><path id="s3_14" d="M467.1,321.6C467.8,320.3 470.3,319.3 471.5,319.1C472.7,318.9 474,319.4 474,320.4C474,321.4 472.6,323.6 471.5,324.8C470.4,325.9 468.5,327.2 467.8,326.6C467,326.1 466.4,323 467.1,321.6Z"/><path id="s3_15" d="M449,311C448.7,310.4 450.5,309.5 452.1,309.5C453.7,309.5 456.5,310.2 457.8,310.8C459,311.3 459.7,312.1 459,312.5C458.3,312.9 455.8,313.1 454,312.9C452.2,312.6 449.3,311.6 449,311Z"/><path id="s3_16" d="M468.8,337.2C468.8,336.8 469.7,336 470.2,336C470.8,336 471.8,336.8 471.8,337.2C471.8,337.7 470.8,338.5 470.2,338.5C469.7,338.5 468.8,337.7 468.8,337.2Z"/><path id="s3_17" d="M471.5,336C471.5,335.3 473.1,334.1 474,334.1C474.9,334.1 476.5,335.3 476.5,336C476.5,336.7 474.9,337.9 474,337.9C473.1,337.9 471.5,336.7 471.5,336Z"/><path id="s3_18" d="M477.1,337.9C477.1,337.4 477.9,336.6 478.4,336.6C478.8,336.6 479.6,337.4 479.6,337.9C479.6,338.3 478.8,339.1 478.4,339.1C477.9,339.1 477.1,338.3 477.1,337.9Z"/><path id="s3_19" d="M474.5,345.4C474.5,344.7 476.7,343.5 478,343.5C479.3,343.5 481.5,344.7 481.5,345.4C481.5,346.1 479.3,347.2 478,347.2C476.7,347.2 474.5,346.1 474.5,345.4Z"/><path id="s3_20" d="M464.5,340.4C464.5,340.1 465.1,339.6 465.5,339.6C465.9,339.6 466.5,340.1 466.5,340.4C466.5,340.6 465.9,341.1 465.5,341.1C465.1,341.1 464.5,340.6 464.5,340.4Z"/><path id="s3_21" d="M484.5,340.4C484.5,340.2 485,339.8 485.2,339.8C485.5,339.8 486,340.2 486,340.4C486,340.6 485.5,341 485.2,341C485,341 484.5,340.6 484.5,340.4Z"/><path id="s3_22" d="M475.6,332.2C475.6,332 476.2,331.5 476.5,331.5C476.8,331.5 477.4,332 477.4,332.2C477.4,332.5 476.8,333 476.5,333C476.2,333 475.6,332.5 475.6,332.2Z"/><path id="s3_23" d="M494.4,342.9C494.4,342.2 496.1,341.1 497.1,341.1C498.1,341.1 499.9,342.2 499.9,342.9C499.9,343.5 498.1,344.6 497.1,344.6C496.1,344.6 494.4,343.5 494.4,342.9Z"/><path id="s3_24" d="M492.2,335.4C492.2,334.8 493.4,333.9 494,333.9C494.6,333.9 495.8,334.8 495.8,335.4C495.8,335.9 494.6,336.9 494,336.9C493.4,336.9 492.2,335.9 492.2,335.4Z"/><path id="s3_25" d="M492.5,312.2C492.9,310.9 494.4,310.3 496.2,309.8C498.1,309.2 500.2,309.1 502.5,309.1C504.8,309.1 506.7,310.3 508.8,309.8C510.8,309.2 511.7,306.8 513.8,306C515.8,305.2 518.4,304.7 520,305.4C521.6,306.1 522.3,308.1 522.5,309.8C522.7,311.4 520.6,313.4 521.2,314.8C521.9,316.1 524.7,316.1 526.2,317.2C527.8,318.4 528.6,319.9 530,321C531.4,322.1 532.9,322.1 533.8,323.5C534.6,324.9 534.3,326.7 535,328.5C535.7,330.3 536.8,331.7 537.5,333.5C538.2,335.3 539.2,336.9 538.8,338.5C538.3,340.1 536.6,341.1 535,342.2C533.4,343.4 532,344.3 530,344.8C528,345.2 525.3,345.4 523.8,344.8C522.2,344.1 521.5,342.6 521.2,341C521,339.4 523.2,337.4 522.5,336C521.8,334.6 519.3,333.5 517.5,333.5C515.7,333.5 514.1,335.1 512.5,336C510.9,336.9 510.6,337.6 508.8,338.5C506.9,339.4 504.1,341.2 502.5,341C500.9,340.8 500.9,338.6 500,337.2C499.1,335.9 498.2,335.3 497.5,333.5C496.8,331.7 496.2,329.3 496.2,327.2C496.2,325.2 497.9,324.1 497.5,322.2C497.1,320.4 494.6,319.1 493.8,317.2C492.9,315.4 492.1,313.6 492.5,312.2Z"/><path id="s3_26" d="M497.5,312.9C498.6,310.6 502.3,311.3 505,311C507.7,310.7 509.8,311 512.5,311C515.2,311 518.4,309.9 520,311C521.6,312.1 519.9,315.2 521.2,317.2C522.6,319.3 525.9,320.2 527.5,322.2C529.1,324.3 530.5,326.9 530,328.5C529.5,330.1 527.2,330.8 525,331C522.8,331.2 520.2,330 517.5,329.8C514.8,329.5 512.7,330 510,329.8C507.3,329.5 504.5,329.6 502.5,328.5C500.5,327.4 499.6,326.3 498.8,323.5C497.9,320.7 496.4,315.1 497.5,312.9Z"/><path id="s3_27" d="M502.5,314.8C503.6,313.5 507.3,312.9 510,312.9C512.7,312.9 515.7,313.5 517.5,314.8C519.3,316 520.5,319.1 520,319.8C519.5,320.4 517,318.7 515,318.5C513,318.3 510.8,318.3 508.8,318.5C506.7,318.7 504.9,320.4 503.8,319.8C502.6,319.1 501.4,316 502.5,314.8Z"/><path id="s3_28" d="M501.2,334.8C502.1,333.7 507.2,333.4 508.8,334.1C510.3,334.8 510.9,337.4 510,338.5C509.1,339.6 505.3,340.7 503.8,340C502.2,339.3 500.4,335.8 501.2,334.8Z"/><path id="s3_29" d="M509,318.8C509.5,317.9 510.5,317.5 511.9,317.5C513.2,317.5 515.2,317.9 516.5,318.8C517.8,319.6 517.9,320.9 519,322C520.1,323.1 521.5,324.1 522.8,325C524,325.9 525.6,326.2 526,327C526.4,327.8 525.8,329 524.8,329.4C523.7,329.7 521.6,329.3 520,328.9C518.4,328.5 517.5,327.7 516,327C514.5,326.3 512.9,325.9 511.6,325.1C510.4,324.3 509.5,323.6 509,322.5C508.5,321.4 508.5,319.6 509,318.8Z"/><path id="s3_30" d="M510.4,319.5C510.8,318.6 513.8,318.9 515.2,319.5C516.7,320.1 517.4,321.8 518.5,322.9C519.6,324 521.4,325.2 521.2,325.8C521.1,326.3 519,326.2 517.5,326C516,325.8 514,325.6 512.8,324.4C511.5,323.2 509.9,320.4 510.4,319.5Z"/><path id="s3_31" d="M513.5,321.2C514,320.9 516.2,321 516.9,321.6C517.6,322.2 517.7,324.1 517.2,324.5C516.8,324.9 515.1,324.3 514.4,323.8C513.7,323.2 513,321.6 513.5,321.2Z"/><path id="s3_32" d="M502.5,322.9C503,322.4 504.3,321.9 505,322.2C505.7,322.6 506.6,324 506.5,324.8C506.4,325.5 505.1,326.2 504.4,326.2C503.6,326.3 502.6,325.6 502.2,325C501.9,324.4 502,323.4 502.5,322.9Z"/><path id="s3_33" d="M500.6,320.4C501.1,319.9 502.7,319.9 503.1,320.4C503.6,320.8 503.6,322.4 503.1,322.9C502.7,323.3 501.1,323.3 500.6,322.9C500.2,322.4 500.2,320.8 500.6,320.4Z"/><path id="s3_34" d="M513.8,316.6C514.4,316.3 516.8,316.3 517.5,316.6C518.2,317 518.2,318.2 517.5,318.5C516.8,318.8 514.4,318.8 513.8,318.5C513.1,318.2 513.1,317 513.8,316.6Z"/><path id="s3_35" d="M525,349.8C525,348.8 527.8,347 529.4,347C531,347 533.8,348.8 533.8,349.8C533.8,350.7 531,352.5 529.4,352.5C527.8,352.5 525,350.7 525,349.8Z"/><path id="s3_36" d="M495,342.9C495,342.2 496.6,341 497.5,341C498.4,341 500,342.2 500,342.9C500,343.6 498.4,344.8 497.5,344.8C496.6,344.8 495,343.6 495,342.9Z"/><path id="s3_37" d="M521.2,351.2C521.2,350.9 522,350.2 522.5,350.2C523,350.2 523.8,350.9 523.8,351.2C523.8,351.6 523,352.2 522.5,352.2C522,352.2 521.2,351.6 521.2,351.2Z"/><path id="s3_38" d="M484.9,340.4C484.9,340.1 485.4,339.6 485.6,339.6C485.9,339.6 486.4,340.1 486.4,340.4C486.4,340.6 485.9,341.1 485.6,341.1C485.4,341.1 484.9,340.6 484.9,340.4Z"/><path id="s3_39" d="M479.8,311C479.8,309.7 481.5,307.5 482.5,307.5C483.5,307.5 485.2,309.7 485.2,311C485.2,312.3 483.5,314.5 482.5,314.5C481.5,314.5 479.8,312.3 479.8,311Z"/><path id="s3_40" d="M518.8,304.8C519,302.7 522,300.5 522.5,298.5C523,296.5 520.4,294.6 521.2,293.5C522.1,292.4 525.7,291.8 527.5,292.2C529.3,292.7 529.2,295.2 531.2,296C533.3,296.8 535.8,295.9 538.8,296.6C541.7,297.3 544.9,298.6 547.5,299.8C550.1,300.9 552.3,301.8 553.1,302.9C553.9,304 551.3,304.9 551.9,306C552.4,307.1 555.6,306.9 556.2,309.1C556.9,311.4 556.6,315.9 555.6,318.5C554.6,321.1 552.5,323.1 550.6,323.5C548.7,323.9 546.9,321.8 545,321C543.1,320.2 541.8,319.1 540,319.1C538.2,319.1 536.8,321.1 535,321C533.2,320.9 531.8,319.6 530,318.5C528.2,317.4 526.6,316.3 525,314.8C523.4,313.2 522.4,311.6 521.2,309.8C520.1,307.9 518.5,306.8 518.8,304.8Z"/><path id="s3_41" d="M523.8,304.8C524.2,302.7 527.3,301.7 530,301C532.7,300.3 535.6,300.6 538.8,301C541.9,301.4 545,301.7 547.5,303.5C550,305.3 552,308.3 552.5,311C553,313.7 551.8,317.4 550,318.5C548.2,319.6 545.4,317.7 542.5,317.2C539.6,316.8 536.5,316.9 533.8,316C531,315.1 529.3,314.3 527.5,312.2C525.7,310.2 523.3,306.8 523.8,304.8Z"/><path id="s3_42" d="M533.8,304.8C534.9,303.9 538.9,303.9 540,304.8C541.1,305.6 541.1,308.9 540,309.8C538.9,310.6 534.9,310.6 533.8,309.8C532.6,308.9 532.6,305.6 533.8,304.8Z"/><path id="s3_43" d="M550,312.9C550.9,312.2 554.1,312.2 555,312.9C555.9,313.6 555.9,315.9 555,316.6C554.1,317.3 550.9,317.3 550,316.6C549.1,315.9 549.1,313.6 550,312.9Z"/><path id="s3_44" d="M556.2,314.8C556.9,312.7 558,312.4 560,312.2C562,312.1 565.2,314.2 567.5,314.1C569.8,314 570.2,311.8 572.5,311.6C574.8,311.4 577.5,313 580,312.9C582.5,312.8 584,311.7 586.2,311C588.5,310.3 590.5,309.1 592.5,309.1C594.5,309.1 595.2,309.8 597.5,311C599.8,312.2 601.7,316.1 605,316C608.3,315.9 612.9,312 616,310.4C619.1,308.8 620,307.5 622.2,307.2C624.5,307 626.2,308.3 628.5,309.1C630.8,309.9 632.5,311.6 634.8,311.6C637,311.6 638.8,310 641,309.1C643.2,308.2 645,307.4 647.2,306.6C649.5,305.8 651.5,305.4 653.5,304.8C655.5,304.1 657.6,299.3 658.5,302.9C659.4,306.5 659.9,320.5 658.5,324.8C657.1,329 653.7,326.4 651,326.6C648.3,326.8 645.8,326.3 643.5,326C641.2,325.7 640.8,324.8 638.5,324.8C636.2,324.8 633.7,325.7 631,326C628.3,326.3 626.2,326.4 623.5,326.6C620.8,326.8 618.7,326.8 616,327.2C613.3,327.7 611.2,328.7 608.5,329.1C605.8,329.6 602.8,329.4 601,329.8C599.2,330.1 599.4,331.4 598.5,331C597.6,330.6 597.5,327.7 596,327.2C594.5,326.8 591.8,328.5 590,328.5C588.2,328.5 588,327 586.2,327.2C584.5,327.5 582.2,328.7 580,329.8C577.8,330.8 576,333.1 573.8,332.9C571.5,332.7 570,329.5 567.5,328.5C565,327.5 562,328.1 560,327.2C558,326.4 556.9,325.8 556.2,323.5C555.6,321.2 555.6,316.8 556.2,314.8Z"/><path id="s3_45" d="M558.8,317.2C559.9,315.7 564.1,316.3 567.5,316C570.9,315.7 574.4,315.4 577.5,315.4C580.6,315.4 582.3,316.1 585,316C587.7,315.9 589.8,314.8 592.5,314.8C595.2,314.8 595.8,316 600,316C604.2,316 611.3,315.4 616,314.8C620.7,314.1 622.4,312.4 626,312.2C629.6,312.1 632.4,314.5 636,314.1C639.6,313.8 642,311.8 646,310.4C650,308.9 656.2,303.6 658.5,306C660.8,308.4 659.9,320.1 658.5,323.5C657.1,326.9 654.1,324.8 651,324.8C647.9,324.8 644.6,323.6 641,323.5C637.4,323.4 634.6,323.9 631,324.1C627.4,324.3 624.6,324.4 621,324.8C617.4,325.1 614.6,325.8 611,326C607.4,326.2 605.2,326.2 601,326C596.8,325.8 591.7,324.4 587.5,324.8C583.3,325.1 580.6,327.4 577.5,327.9C574.4,328.3 572.9,327.8 570,327.2C567.1,326.7 563.3,326.6 561.2,324.8C559.2,322.9 557.6,318.8 558.8,317.2Z"/><path id="s3_46" d="M561.2,318.5C562.6,317.4 567.1,317.2 570,317.2C572.9,317.2 576.4,316.9 577.5,318.5C578.6,320.1 577.6,324.4 576.2,326C574.9,327.6 572.5,327.7 570,327.2C567.5,326.8 564.1,325.1 562.5,323.5C560.9,321.9 559.9,319.6 561.2,318.5Z"/><path id="s3_47" d="M636,317.2C637.8,315.6 642,314.5 646,312.9C650,311.3 656.2,306.7 658.5,308.5C660.8,310.3 660.8,320.2 658.5,322.9C656.2,325.6 650,323.6 646,323.5C642,323.4 637.8,323.4 636,322.2C634.2,321.1 634.2,318.9 636,317.2Z"/><path id="s3_48" d="M647.2,315.4C648.3,313.9 651.5,312.6 653.5,311.6C655.5,310.6 657.6,307.9 658.5,309.8C659.4,311.6 659.6,319.4 658.5,321.6C657.4,323.9 654.2,322.6 652.2,322.2C650.3,321.9 648.8,321 647.9,319.8C647,318.5 646.2,316.8 647.2,315.4Z"/><path id="s3_49" d="M649.1,315.4C649.5,314.5 651.4,312.5 652.2,312.9C653.1,313.2 653.4,316 654.1,317.2C654.8,318.5 656.2,319.2 656,319.8C655.8,320.3 653.9,320.7 652.9,320.4C651.9,320 651.1,318.8 650.4,317.9C649.7,317 648.8,316.3 649.1,315.4Z"/><path id="s3_50" d="M652.2,314.1C652.2,313.2 653.6,312.5 654.8,311.6C655.9,310.7 657.8,308.1 658.5,309.1C659.2,310.1 659.2,315.9 658.5,317.2C657.8,318.6 655.9,317.2 654.8,316.6C653.6,316.1 652.2,315 652.2,314.1Z"/><path id="s3_51" d="M568.1,323.5C568.2,323 569.2,322.7 569.8,322.9C570.3,323.1 571.1,324 571,324.5C570.9,325 569.9,325.9 569.4,325.8C568.9,325.6 568.1,324 568.1,323.5Z"/><path id="s3_52" d="M593.5,311C595.5,310 602.7,309.5 604.8,310.4C606.8,311.3 606.8,315 604.8,316C602.7,317 595.5,316.6 593.5,315.8C591.5,314.9 591.5,312 593.5,311Z"/><path id="s3_53" d="M582.2,319.1C583.6,318.3 588.4,318.3 589.8,319.1C591.1,319.9 591.1,322.7 589.8,323.5C588.4,324.3 583.6,324.3 582.2,323.5C580.9,322.7 580.9,319.9 582.2,319.1Z"/><path id="s3_54" d="M570,305C570,304.2 574.4,302.8 576.9,302.8C579.4,302.8 583.8,304.2 583.8,305C583.8,305.8 579.4,307.2 576.9,307.2C574.4,307.2 570,305.8 570,305Z"/><path id="s3_55" d="M591.2,300.8C591.2,300.2 592.4,299.1 593.1,299.1C593.8,299.1 595,300.2 595,300.8C595,301.3 593.8,302.4 593.1,302.4C592.4,302.4 591.2,301.3 591.2,300.8Z"/><path id="s3_56" d="M598.1,302.9C598.1,301.8 600.5,299.8 601.9,299.8C603.2,299.8 605.6,301.8 605.6,302.9C605.6,304 603.2,306 601.9,306C600.5,306 598.1,304 598.1,302.9Z"/><path id="s3_57" d="M586.2,309.1C586.2,308.7 587.9,307.9 588.8,307.9C589.6,307.9 591.2,308.7 591.2,309.1C591.2,309.6 589.6,310.4 588.8,310.4C587.9,310.4 586.2,309.6 586.2,309.1Z"/><path id="s3_58" d="M582,334.8C582,334.3 583,333.5 583.5,333.5C584,333.5 585,334.3 585,334.8C585,335.2 584,336 583.5,336C583,336 582,335.2 582,334.8Z"/><path id="s3_59" d="M585.5,336.2C585.5,335.9 587.7,335.2 589,335.2C590.3,335.2 592.5,335.9 592.5,336.2C592.5,336.6 590.3,337.2 589,337.2C587.7,337.2 585.5,336.6 585.5,336.2Z"/><path id="s3_60" d="M590.9,300.8C590.9,300.2 592.3,299.1 593.1,299.1C593.9,299.1 595.4,300.2 595.4,300.8C595.4,301.3 593.9,302.4 593.1,302.4C592.3,302.4 590.9,301.3 590.9,300.8Z"/><path id="s3_61" d="M598.4,302.5C598.4,301.5 600.6,299.8 601.9,299.8C603.1,299.8 605.4,301.5 605.4,302.5C605.4,303.5 603.1,305.2 601.9,305.2C600.6,305.2 598.4,303.5 598.4,302.5Z"/><path id="s3_62" d="M608.5,302.9C608.5,302.2 611.3,301 612.9,301C614.5,301 617.2,302.2 617.2,302.9C617.2,303.6 614.5,304.8 612.9,304.8C611.3,304.8 608.5,303.6 608.5,302.9Z"/><path id="s3_63" d="M623.5,303.8C623.5,303.4 624.7,302.8 625.4,302.8C626.1,302.8 627.2,303.4 627.2,303.8C627.2,304.1 626.1,304.8 625.4,304.8C624.7,304.8 623.5,304.1 623.5,303.8Z"/><path id="s3_64" d="M631.5,306C631.5,305.6 632.9,304.8 633.8,304.8C634.6,304.8 636,305.6 636,306C636,306.4 634.6,307.2 633.8,307.2C632.9,307.2 631.5,306.4 631.5,306Z"/><path id="s3_65" d="M575.9,305C575.9,304.5 578.1,303.5 579.4,303.5C580.6,303.5 582.9,304.5 582.9,305C582.9,305.5 580.6,306.5 579.4,306.5C578.1,306.5 575.9,305.5 575.9,305Z"/><path id="s3_66" d="M586,309.1C586,308.7 587.8,307.9 588.8,307.9C589.7,307.9 591.5,308.7 591.5,309.1C591.5,309.6 589.7,310.4 588.8,310.4C587.8,310.4 586,309.6 586,309.1Z"/><path id="s3_67" d="M650.9,301.9C650.9,301.5 651.5,300.9 651.9,300.9C652.2,300.9 652.9,301.5 652.9,301.9C652.9,302.2 652.2,302.9 651.9,302.9C651.5,302.9 650.9,302.2 650.9,301.9Z"/><path id="s3_68" d="M582.2,334.8C582.2,334.3 583,333.5 583.5,333.5C584,333.5 584.8,334.3 584.8,334.8C584.8,335.2 584,336 583.5,336C583,336 582.2,335.2 582.2,334.8Z"/><path id="s3_69" d="M586,336.1C586,335.8 588,335.2 589.1,335.2C590.2,335.2 592.2,335.8 592.2,336.1C592.2,336.4 590.2,337 589.1,337C588,337 586,336.4 586,336.1Z"/><path id="s3_70" d="M556.7,468.1C557,467.6 558.3,467.6 560.2,468.1C562.2,468.6 565.1,469.9 567.5,470.8C569.9,471.8 571.5,472.2 573.8,473.3C576,474.5 578.7,476 580,477.1C581.3,478.1 581.8,479 581,479.2C580.3,479.3 577.9,478.5 575.8,477.9C573.8,477.3 571.8,476.7 569.6,475.8C567.3,475 565.4,474.2 563.3,473.3C561.3,472.4 559.3,471.8 558.1,470.8C556.9,469.9 556.3,468.6 556.7,468.1Z"/><path id="s3_71" d="M561.2,469.8C561.8,469.6 565.2,470.8 567.5,471.7C569.8,472.5 573.2,473.8 573.8,474.4C574.3,475 572.3,475.3 570.6,475C568.9,474.7 566.1,473.9 564.4,472.9C562.7,472 560.7,470 561.2,469.8Z"/><path id="s3_72" d="M468.8,511.9C469.2,510.4 470.6,509.9 471.7,510.8C472.8,511.8 472.9,514.8 474.8,517.1C476.7,519.3 478.9,521.3 482.1,523.3C485.3,525.4 489.5,527 492.5,528.5C495.5,530 498.8,531 498.8,531.7C498.8,532.3 495.5,532.5 492.5,532.1C489.5,531.6 485.5,530.4 482.1,529.2C478.7,527.9 476.1,526.8 473.8,525C471.4,523.2 470.1,521.5 469.2,519.2C468.3,516.8 468.3,513.4 468.8,511.9Z"/><path id="s3_73" d="M472.7,520.2C473.2,520.2 474.8,522.1 476.9,523.3C478.9,524.6 483.6,526.5 484.2,527.1C484.7,527.6 481.8,527.1 480,526.5C478.2,525.8 475.5,524.5 474.2,523.3C472.9,522.2 472.2,520.2 472.7,520.2Z"/><path id="s3_74" d="M557.6,434.3C558.9,433.7 563.7,433.5 565,434C566.3,434.5 566.3,436.4 565,437C563.7,437.6 558.9,437.7 557.6,437.2C556.3,436.7 556.3,434.9 557.6,434.3Z"/></defs>
<g filter="url(#h)"><g fill="#55eb55" stroke="#55eb55" stroke-linejoin="round"><use href="#s3_0" fill="#32cd3c" stroke-width="1.7"/><use href="#s3_16" stroke="none"/><use href="#s3_17" stroke="none"/><use href="#s3_18" stroke="none"/><use href="#s3_19" stroke="none"/><use href="#s3_20" stroke="none"/><use href="#s3_21" stroke="none"/><use href="#s3_22" stroke="none"/><use href="#s3_23" stroke="none"/><use href="#s3_24" stroke="none"/><use href="#s3_25" fill="#32cd3c" stroke-width="1.7"/><use href="#s3_35" stroke="none"/><use href="#s3_36" stroke="none"/><use href="#s3_37" stroke="none"/><use href="#s3_38" stroke="none"/><use href="#s3_39" stroke="none"/><use href="#s3_40" fill="#32cd3c" stroke-width="1.7"/><use href="#s3_44" fill="#32cd3c" stroke-width="1.7"/><use href="#s3_54" fill="#32cd3c" stroke-width="1.7"/><use href="#s3_55" stroke="none"/><use href="#s3_56" stroke="none"/><use href="#s3_57" stroke="none"/><use href="#s3_58" stroke="none"/><use href="#s3_59" stroke="none"/><use href="#s3_60" stroke="none"/><use href="#s3_61" stroke="none"/><use href="#s3_62" stroke="none"/><use href="#s3_63" stroke="none"/><use href="#s3_64" stroke="none"/><use href="#s3_65" stroke="none"/><use href="#s3_66" stroke="none"/><use href="#s3_67" stroke="none"/><use href="#s3_68" stroke="none"/><use href="#s3_69" stroke="none"/><use href="#s3_74" stroke="none"/></g>
<g fill="#32cd3c" stroke="#32cd3c" stroke-linejoin="round"><use href="#s3_1" stroke="none"/><use href="#s3_41" stroke="none"/><use href="#s3_45" stroke="none"/></g>
</g>
<g fill="#55eb55" stroke="#55eb55" stroke-linejoin="round"><use href="#s3_70" fill="#32cd3c" stroke-width="1.7"/><use href="#s3_72" fill="#32cd3c" stroke-width="1.7"/></g>
<g fill="#14aa1e" stroke="#14aa1e" stroke-linejoin="round"><use href="#s3_2" stroke="none"/><use href="#s3_26" stroke="none"/><use href="#s3_46" stroke="none"/><use href="#s3_47" stroke="none"/><use href="#s3_71" stroke="none"/></g>
<g fill="#008700" stroke="#008700" stroke-linejoin="round"><use href="#s3_27" stroke="none"/><use href="#s3_48" stroke="none"/></g>
<g fill="#beebfa" stroke="#beebfa" stroke-linejoin="round"><use href="#s3_5" stroke="none"/><use href="#s3_6" stroke-width="0.7"/><use href="#s3_11" stroke-width="0.7"/><use href="#s3_29" stroke-width="0.7"/><use href="#s3_32" stroke-width="0.6"/><use href="#s3_33" stroke="none"/><use href="#s3_34" stroke="none"/><use href="#s3_49" stroke="none"/><use href="#s3_51" stroke-width="1"/></g>
<g fill="#ffa500" stroke="#ffa500" stroke-linejoin="round"><use href="#s3_6" stroke="none"/><use href="#s3_9" stroke="none"/><use href="#s3_10" stroke="none"/><use href="#s3_11" stroke="none"/><use href="#s3_29" stroke="none"/><use href="#s3_32" stroke="none"/><use href="#s3_50" stroke="none"/><use href="#s3_51" stroke="none"/><use href="#s3_73" stroke="none"/></g>
<g fill="#ff7300" stroke="#ff7300" stroke-linejoin="round"><use href="#s3_7" stroke-width="1.6"/><use href="#s3_12" stroke-width="1.6"/><use href="#s3_30" stroke-width="1.4"/></g>
<g fill="#ff3200" stroke="#ff3200" stroke-linejoin="round"><use href="#s3_7" stroke-width="0.8"/><use href="#s3_12" stroke-width="0.8"/><use href="#s3_15" stroke="none"/><use href="#s3_30" stroke-width="0.7"/></g>
<g fill="#d7190a" stroke="#d7190a" stroke-linejoin="round"><use href="#s3_7" stroke="none"/><use href="#s3_12" stroke="none"/><use href="#s3_30" stroke="none"/></g>
<g fill="#aa0000" stroke="#aa0000" stroke-linejoin="round"><use href="#s3_8" stroke="none"/><use href="#s3_13" stroke-width="0.8"/><use href="#s3_14" stroke="none"/></g>
<g fill="#6e0000" stroke="#6e0000" stroke-linejoin="round"><use href="#s3_13" stroke="none"/><use href="#s3_31" stroke="none"/></g>
<use href="#s3_3" fill="#ffffff"/>
<use href="#s3_4" fill="#ffffff"/>
<use href="#s3_28" fill="#ffffff"/>
<use href="#s3_42" fill="#ffffff"/>
<use href="#s3_43" fill="#ffffff"/>
<use href="#s3_52" fill="#ffffff"/>
<use href="#s3_53" fill="#ffffff"/>
</g>
<path class="g" d="M421.5,289.8V538.7 M455.2,289.8V538.7 M488.9,289.8V538.7 M522.6,289.8V538.7 M556.3,289.8V538.7 M590,289.8V538.7 M623.7,289.8V538.7 M657.4,289.8V538.7 M404.8,310.6H657.4 M404.8,344.3H657.4 M404.8,378.1H657.4 M404.8,411.8H657.4 M404.8,445.6H657.4 M404.8,479.3H657.4 M404.8,513H657.4"/>
<g clip-path="url(#clip3)"><use href="#coast" transform="translate(387.8,344.3) scale(3.37,3.375)"/></g>
<text class="ax" x="396.1" y="312.6">10N</text><text class="ax" x="396.1" y="346.3">0</text><text class="ax" x="396.1" y="380.1">10S</text><text class="ax" x="396.1" y="413.8">20S</text><text class="ax" x="396.1" y="447.6">30S</text><text class="ax" x="396.1" y="481.3">40S</text><text class="ax" x="396.1" y="515">50S</text><text class="ax" x="419.8" y="543.9">90W</text><text class="ax" x="453.5" y="543.9">80W</text><text class="ax" x="487.2" y="543.9">70W</text><text class="ax" x="520.9" y="543.9">60W</text><text class="ax" x="554.6" y="543.9">50W</text><text class="ax" x="588.3" y="543.9">40W</text><text class="ax" x="622" y="543.9">30W</text>
<text class="cap" x="346" y="552" clip-path="url(#capclip)" textLength="360.5" lengthAdjust="spacingAndGlyphs" xml:space="preserve">NOAA GEFS 20210809 00zCYC FCST Probability of Week1 Precip &gt; 100mm  VALID 20210816/0000V168</text>
<rect x="662.1" y="366.5" width="5.6" height="13.8" fill="#6e0000"/><rect x="662.1" y="380.1" width="5.6" height="13.8" fill="#aa0000"/><rect x="662.1" y="393.8" width="5.6" height="13.8" fill="#d7190a"/><rect x="662.1" y="407.4" width="5.6" height="13.8" fill="#ff3200"/><rect x="662.1" y="421.1" width="5.6" height="13.8" fill="#ff7300"/><rect x="662.1" y="434.7" width="5.6" height="13.8" fill="#ffa500"/><rect x="662.1" y="448.3" width="5.6" height="13.8" fill="#beebfa"/><rect x="662.1" y="462" width="5.6" height="13.8" fill="#008700"/><rect x="662.1" y="475.6" width="5.6" height="13.8" fill="#14aa1e"/><rect x="662.1" y="489.3" width="5.6" height="13.8" fill="#32cd3c"/><rect x="662.1" y="502.9" width="5.6" height="13.8" fill="#55eb55"/><rect x="662.1" y="516.5" width="5.6" height="13.8" fill="#ffffff"/><rect x="662.1" y="366.5" width="5.6" height="163.7" fill="none" stroke="#777" stroke-width="0.5"/><path d="M662.1,380.1h5.6" stroke="rgba(0,0,0,0.35)" stroke-width="0.5"/><text class="cb" x="668.3" y="382">95</text><path d="M662.1,393.8h5.6" stroke="rgba(0,0,0,0.35)" stroke-width="0.5"/><text class="cb" x="668.3" y="395.7">90</text><path d="M662.1,407.4h5.6" stroke="rgba(0,0,0,0.35)" stroke-width="0.5"/><text class="cb" x="668.3" y="409.3">80</text><path d="M662.1,421.1h5.6" stroke="rgba(0,0,0,0.35)" stroke-width="0.5"/><text class="cb" x="668.3" y="423">70</text><path d="M662.1,434.7h5.6" stroke="rgba(0,0,0,0.35)" stroke-width="0.5"/><text class="cb" x="668.3" y="436.6">60</text><path d="M662.1,448.3h5.6" stroke="rgba(0,0,0,0.35)" stroke-width="0.5"/><text class="cb" x="668.3" y="450.2">50</text><path d="M662.1,462h5.6" stroke="rgba(0,0,0,0.35)" stroke-width="0.5"/><text class="cb" x="668.3" y="463.9">40</text><path d="M662.1,475.6h5.6" stroke="rgba(0,0,0,0.35)" stroke-width="0.5"/><text class="cb" x="668.3" y="477.5">30</text><path d="M662.1,489.3h5.6" stroke="rgba(0,0,0,0.35)" stroke-width="0.5"/><text class="cb" x="668.3" y="491.2">20</text><path d="M662.1,502.9h5.6" stroke="rgba(0,0,0,0.35)" stroke-width="0.5"/><text class="cb" x="668.3" y="504.8">10</text><path d="M662.1,516.5h5.6" stroke="rgba(0,0,0,0.35)" stroke-width="0.5"/><text class="cb" x="668.3" y="518.4">5</text>
<text class="t" x="506.4" y="377.6" textLength="64.4" lengthAdjust="spacing">100 mm</text>
</g>
<text class="t" x="481.5" y="128.4" style="font-size:16.6px">SEMANA I</text>
</svg>
</body></html>
